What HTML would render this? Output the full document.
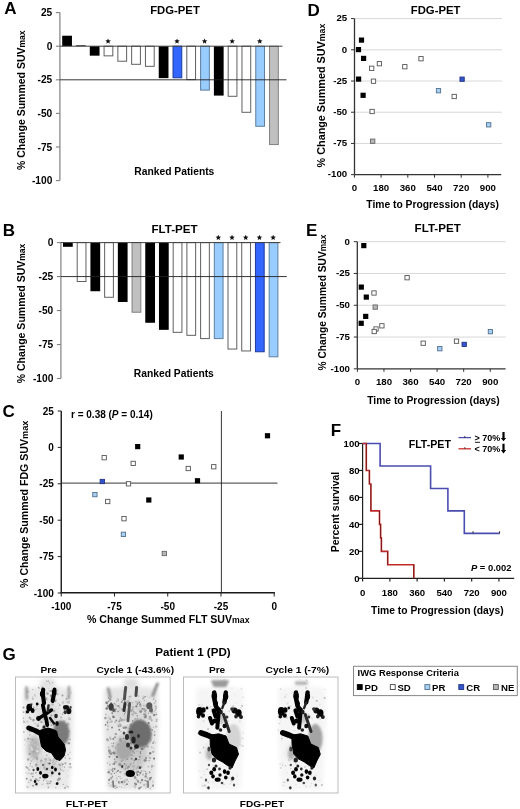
<!DOCTYPE html>
<html><head><meta charset="utf-8"><style>
html,body{margin:0;padding:0;background:#fff;}
svg{display:block;font-family:"Liberation Sans", sans-serif;will-change:transform;filter:blur(0.45px);}
</style></head><body>
<svg width="520" height="809" viewBox="0 0 520 809">
<rect width="520" height="809" fill="#fff"/>
<defs>
<filter id="b0" x="-20%" y="-20%" width="140%" height="140%"><feGaussianBlur stdDeviation="0.75"/></filter>
<filter id="b1" x="-20%" y="-20%" width="140%" height="140%"><feGaussianBlur stdDeviation="1.0"/></filter>
<filter id="b2" x="-20%" y="-20%" width="140%" height="140%"><feGaussianBlur stdDeviation="2.0"/></filter>
</defs>
<g filter="url(#b2)">
<path d="M41.5,679.0 L54.5,679.0 L55.5,687.0 L72.0,689.0 L73.0,719.0 L71.0,759.0 L69.0,789.0 L27.0,789.0 L25.0,759.0 L23.0,719.0 L24.0,689.0 L40.5,687.0 Z" fill="#e9e9e9" stroke="#e9e9e9" stroke-width="1" stroke-linejoin="round" opacity="1"/>
<ellipse cx="47.0" cy="684.0" rx="7" ry="5" fill="#e2e2e2" opacity="1"/>
<ellipse cx="34.5" cy="748.0" rx="6.5" ry="12" fill="#b4b4b4" opacity="1"/>
<ellipse cx="48.0" cy="766.0" rx="13" ry="9" fill="#d6d6d6" opacity="1"/>
<ellipse cx="48.0" cy="714.0" rx="12" ry="11" fill="#dcdcdc" opacity="1"/>
</g><g filter="url(#b0)">
<circle cx="45.6" cy="740.6" r="0.86" fill="rgb(209,209,209)"/>
<circle cx="65.8" cy="699.9" r="0.88" fill="rgb(215,215,215)"/>
<circle cx="53.7" cy="699.5" r="0.74" fill="rgb(207,207,207)"/>
<circle cx="27.5" cy="768.1" r="0.98" fill="rgb(155,155,155)"/>
<circle cx="42.8" cy="728.8" r="1.00" fill="rgb(170,170,170)"/>
<circle cx="53.0" cy="764.6" r="0.85" fill="rgb(191,191,191)"/>
<circle cx="65.1" cy="736.1" r="0.90" fill="rgb(187,187,187)"/>
<circle cx="56.1" cy="729.3" r="0.83" fill="rgb(185,185,185)"/>
<circle cx="50.6" cy="781.5" r="1.07" fill="rgb(160,160,160)"/>
<circle cx="38.8" cy="704.3" r="0.52" fill="rgb(186,186,186)"/>
<circle cx="51.2" cy="690.9" r="1.18" fill="rgb(163,163,163)"/>
<circle cx="42.3" cy="784.4" r="0.67" fill="rgb(150,150,150)"/>
<circle cx="41.8" cy="757.0" r="0.56" fill="rgb(203,203,203)"/>
<circle cx="54.5" cy="764.6" r="0.77" fill="rgb(184,184,184)"/>
<circle cx="43.5" cy="780.5" r="0.70" fill="rgb(167,167,167)"/>
<circle cx="62.9" cy="698.5" r="0.65" fill="rgb(221,221,221)"/>
<circle cx="48.4" cy="787.4" r="0.84" fill="rgb(166,166,166)"/>
<circle cx="42.2" cy="722.4" r="0.50" fill="rgb(177,177,177)"/>
<circle cx="66.2" cy="786.2" r="0.74" fill="rgb(225,225,225)"/>
<circle cx="67.2" cy="702.2" r="1.30" fill="rgb(200,200,200)"/>
<circle cx="53.1" cy="742.5" r="1.29" fill="rgb(155,155,155)"/>
<circle cx="33.7" cy="707.4" r="1.16" fill="rgb(192,192,192)"/>
<circle cx="42.3" cy="687.2" r="0.97" fill="rgb(176,176,176)"/>
<circle cx="35.2" cy="745.1" r="1.00" fill="rgb(197,197,197)"/>
<circle cx="29.4" cy="743.6" r="0.61" fill="rgb(223,223,223)"/>
<circle cx="42.3" cy="748.0" r="1.23" fill="rgb(189,189,189)"/>
<circle cx="63.9" cy="706.4" r="0.63" fill="rgb(174,174,174)"/>
<circle cx="54.4" cy="739.9" r="1.21" fill="rgb(199,199,199)"/>
<circle cx="53.2" cy="725.4" r="0.59" fill="rgb(163,163,163)"/>
<circle cx="48.6" cy="707.1" r="0.71" fill="rgb(200,200,200)"/>
<circle cx="64.2" cy="744.6" r="0.92" fill="rgb(187,187,187)"/>
<circle cx="29.3" cy="731.7" r="0.72" fill="rgb(159,159,159)"/>
<circle cx="68.9" cy="701.4" r="0.56" fill="rgb(152,152,152)"/>
<circle cx="43.6" cy="706.4" r="0.64" fill="rgb(155,155,155)"/>
<circle cx="41.4" cy="741.9" r="0.57" fill="rgb(166,166,166)"/>
<circle cx="29.9" cy="728.5" r="1.03" fill="rgb(192,192,192)"/>
<circle cx="57.6" cy="743.3" r="0.97" fill="rgb(167,167,167)"/>
<circle cx="69.2" cy="731.2" r="1.06" fill="rgb(195,195,195)"/>
<circle cx="54.8" cy="732.0" r="0.76" fill="rgb(189,189,189)"/>
<circle cx="50.3" cy="760.1" r="1.13" fill="rgb(166,166,166)"/>
<circle cx="68.8" cy="717.7" r="1.22" fill="rgb(210,210,210)"/>
<circle cx="66.6" cy="724.9" r="1.19" fill="rgb(153,153,153)"/>
<circle cx="51.6" cy="747.7" r="0.80" fill="rgb(198,198,198)"/>
<circle cx="27.5" cy="691.7" r="1.20" fill="rgb(182,182,182)"/>
<circle cx="59.4" cy="721.7" r="0.87" fill="rgb(224,224,224)"/>
<circle cx="46.1" cy="738.5" r="1.10" fill="rgb(216,216,216)"/>
<circle cx="24.5" cy="745.1" r="0.52" fill="rgb(211,211,211)"/>
<circle cx="70.9" cy="691.4" r="0.70" fill="rgb(212,212,212)"/>
<circle cx="23.6" cy="712.1" r="0.91" fill="rgb(175,175,175)"/>
<circle cx="60.7" cy="716.7" r="0.90" fill="rgb(206,206,206)"/>
<circle cx="35.1" cy="723.5" r="0.66" fill="rgb(182,182,182)"/>
<circle cx="44.5" cy="767.7" r="1.20" fill="rgb(175,175,175)"/>
<circle cx="42.2" cy="743.1" r="0.67" fill="rgb(190,190,190)"/>
<circle cx="29.7" cy="717.6" r="1.07" fill="rgb(155,155,155)"/>
<circle cx="70.5" cy="709.4" r="0.59" fill="rgb(171,171,171)"/>
<circle cx="46.6" cy="780.8" r="0.81" fill="rgb(202,202,202)"/>
<circle cx="49.0" cy="752.9" r="0.76" fill="rgb(207,207,207)"/>
<circle cx="64.4" cy="709.6" r="1.04" fill="rgb(155,155,155)"/>
<circle cx="37.1" cy="718.0" r="0.52" fill="rgb(222,222,222)"/>
<circle cx="29.8" cy="729.0" r="1.12" fill="rgb(153,153,153)"/>
<circle cx="36.3" cy="764.7" r="1.29" fill="rgb(156,156,156)"/>
<circle cx="28.8" cy="691.0" r="1.02" fill="rgb(218,218,218)"/>
<circle cx="63.4" cy="784.4" r="0.66" fill="rgb(175,175,175)"/>
<circle cx="46.8" cy="698.7" r="1.10" fill="rgb(151,151,151)"/>
<circle cx="49.7" cy="683.0" r="0.72" fill="rgb(178,178,178)"/>
<circle cx="40.3" cy="755.7" r="0.90" fill="rgb(216,216,216)"/>
<circle cx="65.4" cy="756.0" r="0.57" fill="rgb(178,178,178)"/>
<circle cx="69.6" cy="758.5" r="0.86" fill="rgb(166,166,166)"/>
<circle cx="32.8" cy="776.6" r="0.80" fill="rgb(150,150,150)"/>
<circle cx="51.4" cy="775.7" r="0.87" fill="rgb(193,193,193)"/>
<circle cx="55.6" cy="701.5" r="0.67" fill="rgb(165,165,165)"/>
<circle cx="68.0" cy="786.9" r="0.93" fill="rgb(189,189,189)"/>
<circle cx="62.5" cy="714.2" r="0.78" fill="rgb(152,152,152)"/>
<circle cx="27.1" cy="727.5" r="0.84" fill="rgb(220,220,220)"/>
<circle cx="36.8" cy="780.2" r="1.15" fill="rgb(177,177,177)"/>
<circle cx="26.2" cy="767.0" r="0.93" fill="rgb(172,172,172)"/>
<circle cx="57.3" cy="779.8" r="0.62" fill="rgb(210,210,210)"/>
<circle cx="48.8" cy="758.6" r="1.26" fill="rgb(206,206,206)"/>
<circle cx="47.6" cy="783.4" r="1.11" fill="rgb(161,161,161)"/>
<circle cx="45.0" cy="740.5" r="1.01" fill="rgb(221,221,221)"/>
<circle cx="49.1" cy="771.8" r="0.71" fill="rgb(221,221,221)"/>
<circle cx="56.6" cy="784.0" r="0.74" fill="rgb(176,176,176)"/>
<circle cx="30.1" cy="738.9" r="0.96" fill="rgb(184,184,184)"/>
<circle cx="33.0" cy="737.9" r="0.50" fill="rgb(214,214,214)"/>
<circle cx="41.9" cy="738.2" r="0.91" fill="rgb(155,155,155)"/>
<circle cx="43.0" cy="767.1" r="0.60" fill="rgb(222,222,222)"/>
<circle cx="27.7" cy="697.3" r="0.87" fill="rgb(218,218,218)"/>
<circle cx="69.0" cy="767.0" r="0.72" fill="rgb(201,201,201)"/>
<circle cx="46.7" cy="693.0" r="1.22" fill="rgb(205,205,205)"/>
<circle cx="49.2" cy="690.9" r="0.99" fill="rgb(203,203,203)"/>
<circle cx="69.3" cy="693.2" r="0.53" fill="rgb(152,152,152)"/>
<circle cx="37.2" cy="758.6" r="1.00" fill="rgb(181,181,181)"/>
<circle cx="28.2" cy="759.4" r="1.18" fill="rgb(165,165,165)"/>
<circle cx="54.2" cy="757.9" r="1.20" fill="rgb(217,217,217)"/>
<circle cx="64.3" cy="746.7" r="0.66" fill="rgb(218,218,218)"/>
<circle cx="54.6" cy="749.2" r="0.67" fill="rgb(217,217,217)"/>
<circle cx="50.1" cy="743.5" r="0.69" fill="rgb(167,167,167)"/>
<circle cx="60.0" cy="768.2" r="0.75" fill="rgb(173,173,173)"/>
<circle cx="38.7" cy="780.5" r="1.12" fill="rgb(177,177,177)"/>
<circle cx="32.7" cy="689.7" r="0.61" fill="rgb(180,180,180)"/>
<circle cx="27.4" cy="721.7" r="1.17" fill="rgb(205,205,205)"/>
<circle cx="44.1" cy="765.9" r="0.66" fill="rgb(166,166,166)"/>
<circle cx="54.4" cy="766.9" r="0.66" fill="rgb(162,162,162)"/>
<circle cx="57.1" cy="779.3" r="0.59" fill="rgb(196,196,196)"/>
<circle cx="48.3" cy="762.4" r="1.30" fill="rgb(214,214,214)"/>
<circle cx="64.6" cy="767.3" r="0.58" fill="rgb(211,211,211)"/>
<circle cx="24.9" cy="739.7" r="1.22" fill="rgb(215,215,215)"/>
<circle cx="47.1" cy="699.9" r="0.66" fill="rgb(164,164,164)"/>
<circle cx="65.0" cy="787.9" r="0.96" fill="rgb(162,162,162)"/>
<circle cx="29.7" cy="753.9" r="1.11" fill="rgb(159,159,159)"/>
<circle cx="39.3" cy="730.4" r="0.78" fill="rgb(215,215,215)"/>
<circle cx="33.5" cy="720.0" r="1.18" fill="rgb(155,155,155)"/>
<circle cx="32.1" cy="728.9" r="0.82" fill="rgb(197,197,197)"/>
<circle cx="32.8" cy="697.2" r="1.13" fill="rgb(215,215,215)"/>
<circle cx="39.2" cy="688.3" r="0.96" fill="rgb(201,201,201)"/>
<circle cx="32.5" cy="743.3" r="1.14" fill="rgb(193,193,193)"/>
<circle cx="35.9" cy="779.2" r="1.15" fill="rgb(170,170,170)"/>
<circle cx="43.3" cy="777.6" r="1.06" fill="rgb(218,218,218)"/>
<circle cx="61.4" cy="763.2" r="0.67" fill="rgb(201,201,201)"/>
<circle cx="32.2" cy="766.7" r="0.88" fill="rgb(188,188,188)"/>
<circle cx="23.5" cy="718.1" r="0.69" fill="rgb(156,156,156)"/>
<circle cx="70.2" cy="752.3" r="0.67" fill="rgb(193,193,193)"/>
<circle cx="43.3" cy="699.0" r="0.81" fill="rgb(159,159,159)"/>
<circle cx="58.1" cy="762.8" r="0.52" fill="rgb(223,223,223)"/>
<circle cx="53.8" cy="760.3" r="0.85" fill="rgb(182,182,182)"/>
<circle cx="48.2" cy="762.7" r="0.51" fill="rgb(198,198,198)"/>
<circle cx="35.9" cy="709.3" r="0.94" fill="rgb(193,193,193)"/>
<circle cx="48.4" cy="785.4" r="1.18" fill="rgb(222,222,222)"/>
<circle cx="28.0" cy="727.9" r="0.94" fill="rgb(159,159,159)"/>
<circle cx="56.4" cy="784.1" r="1.24" fill="rgb(199,199,199)"/>
<circle cx="31.0" cy="730.9" r="1.18" fill="rgb(171,171,171)"/>
<circle cx="50.1" cy="744.6" r="1.26" fill="rgb(204,204,204)"/>
<circle cx="44.0" cy="736.9" r="0.79" fill="rgb(189,189,189)"/>
<circle cx="37.3" cy="751.1" r="1.24" fill="rgb(221,221,221)"/>
<circle cx="56.2" cy="761.3" r="0.51" fill="rgb(153,153,153)"/>
<circle cx="30.8" cy="762.0" r="0.54" fill="rgb(199,199,199)"/>
<circle cx="38.8" cy="722.8" r="1.29" fill="rgb(224,224,224)"/>
<circle cx="68.3" cy="726.2" r="0.70" fill="rgb(211,211,211)"/>
<circle cx="27.9" cy="768.1" r="0.62" fill="rgb(209,209,209)"/>
<circle cx="71.0" cy="706.0" r="0.54" fill="rgb(164,164,164)"/>
<circle cx="43.9" cy="692.0" r="0.79" fill="rgb(156,156,156)"/>
<circle cx="30.7" cy="719.0" r="1.03" fill="rgb(167,167,167)"/>
<circle cx="45.8" cy="707.8" r="1.05" fill="rgb(224,224,224)"/>
<circle cx="41.2" cy="760.8" r="1.26" fill="rgb(167,167,167)"/>
<circle cx="59.7" cy="705.2" r="0.90" fill="rgb(164,164,164)"/>
<circle cx="38.4" cy="734.8" r="0.72" fill="rgb(195,195,195)"/>
<circle cx="53.5" cy="758.8" r="0.65" fill="rgb(225,225,225)"/>
<circle cx="36.9" cy="705.3" r="0.90" fill="rgb(181,181,181)"/>
<circle cx="55.6" cy="700.6" r="1.00" fill="rgb(155,155,155)"/>
<circle cx="23.5" cy="707.5" r="1.00" fill="rgb(153,153,153)"/>
<circle cx="28.1" cy="738.6" r="1.10" fill="rgb(159,159,159)"/>
<circle cx="68.6" cy="696.7" r="1.00" fill="rgb(180,180,180)"/>
<circle cx="41.7" cy="731.6" r="0.77" fill="rgb(176,176,176)"/>
<circle cx="47.7" cy="693.7" r="1.14" fill="rgb(159,159,159)"/>
<circle cx="45.4" cy="769.4" r="0.86" fill="rgb(177,177,177)"/>
<circle cx="60.4" cy="721.9" r="0.80" fill="rgb(169,169,169)"/>
<circle cx="55.7" cy="787.8" r="0.73" fill="rgb(191,191,191)"/>
<circle cx="60.9" cy="769.9" r="0.84" fill="rgb(173,173,173)"/>
<circle cx="41.5" cy="689.7" r="0.56" fill="rgb(191,191,191)"/>
<circle cx="27.2" cy="741.1" r="1.15" fill="rgb(212,212,212)"/>
<circle cx="46.2" cy="769.6" r="0.56" fill="rgb(151,151,151)"/>
<circle cx="33.7" cy="751.8" r="1.06" fill="rgb(160,160,160)"/>
<circle cx="47.7" cy="763.1" r="0.73" fill="rgb(191,191,191)"/>
<circle cx="30.1" cy="718.4" r="0.79" fill="rgb(191,191,191)"/>
<circle cx="28.9" cy="757.0" r="0.98" fill="rgb(222,222,222)"/>
<circle cx="68.1" cy="754.6" r="0.85" fill="rgb(185,185,185)"/>
<circle cx="63.2" cy="712.5" r="0.68" fill="rgb(190,190,190)"/>
<circle cx="48.8" cy="688.3" r="0.52" fill="rgb(196,196,196)"/>
<circle cx="56.9" cy="743.3" r="1.09" fill="rgb(174,174,174)"/>
<circle cx="41.4" cy="721.9" r="1.17" fill="rgb(169,169,169)"/>
<circle cx="51.1" cy="698.4" r="1.20" fill="rgb(208,208,208)"/>
<circle cx="48.8" cy="738.9" r="0.74" fill="rgb(222,222,222)"/>
<circle cx="44.1" cy="743.0" r="1.13" fill="rgb(189,189,189)"/>
<circle cx="59.9" cy="777.9" r="0.52" fill="rgb(160,160,160)"/>
<circle cx="55.7" cy="689.7" r="0.70" fill="rgb(204,204,204)"/>
<circle cx="34.0" cy="763.2" r="0.77" fill="rgb(216,216,216)"/>
<circle cx="46.0" cy="717.5" r="1.04" fill="rgb(192,192,192)"/>
<circle cx="47.7" cy="738.1" r="1.07" fill="rgb(159,159,159)"/>
<circle cx="68.7" cy="724.2" r="1.18" fill="rgb(194,194,194)"/>
<circle cx="63.3" cy="770.7" r="1.27" fill="rgb(209,209,209)"/>
<circle cx="55.0" cy="736.6" r="1.14" fill="rgb(151,151,151)"/>
<circle cx="44.1" cy="725.3" r="0.70" fill="rgb(168,168,168)"/>
<circle cx="31.1" cy="748.9" r="0.76" fill="rgb(171,171,171)"/>
<circle cx="42.5" cy="737.2" r="1.28" fill="rgb(185,185,185)"/>
<circle cx="26.0" cy="712.9" r="0.74" fill="rgb(164,164,164)"/>
<circle cx="30.8" cy="780.2" r="1.10" fill="rgb(157,157,157)"/>
<circle cx="23.9" cy="731.9" r="0.75" fill="rgb(154,154,154)"/>
<circle cx="32.9" cy="718.5" r="0.69" fill="rgb(225,225,225)"/>
<circle cx="58.9" cy="744.4" r="0.85" fill="rgb(178,178,178)"/>
<circle cx="67.7" cy="723.3" r="1.00" fill="rgb(189,189,189)"/>
<circle cx="70.1" cy="739.5" r="0.89" fill="rgb(183,183,183)"/>
<circle cx="43.1" cy="784.1" r="1.12" fill="rgb(220,220,220)"/>
<circle cx="27.6" cy="773.9" r="0.54" fill="rgb(201,201,201)"/>
<circle cx="70.4" cy="767.2" r="1.28" fill="rgb(199,199,199)"/>
<circle cx="62.7" cy="764.2" r="1.03" fill="rgb(157,157,157)"/>
<circle cx="46.6" cy="719.9" r="1.07" fill="rgb(181,181,181)"/>
<circle cx="53.3" cy="696.3" r="1.12" fill="rgb(170,170,170)"/>
<circle cx="30.2" cy="778.9" r="0.60" fill="rgb(216,216,216)"/>
<circle cx="60.1" cy="747.1" r="0.93" fill="rgb(216,216,216)"/>
<circle cx="30.5" cy="763.7" r="0.66" fill="rgb(150,150,150)"/>
<circle cx="68.8" cy="695.4" r="0.57" fill="rgb(166,166,166)"/>
<circle cx="36.5" cy="757.8" r="1.21" fill="rgb(162,162,162)"/>
<circle cx="57.7" cy="688.1" r="0.93" fill="rgb(225,225,225)"/>
<circle cx="48.3" cy="681.1" r="0.83" fill="rgb(174,174,174)"/>
<circle cx="68.8" cy="689.0" r="0.67" fill="rgb(206,206,206)"/>
<circle cx="50.2" cy="736.8" r="1.26" fill="rgb(170,170,170)"/>
<circle cx="71.2" cy="713.8" r="0.56" fill="rgb(201,201,201)"/>
<circle cx="38.3" cy="730.4" r="0.79" fill="rgb(158,158,158)"/>
<circle cx="57.4" cy="690.6" r="1.04" fill="rgb(200,200,200)"/>
<circle cx="60.3" cy="765.3" r="1.02" fill="rgb(165,165,165)"/>
<circle cx="23.6" cy="720.5" r="0.69" fill="rgb(210,210,210)"/>
<circle cx="51.2" cy="729.4" r="1.18" fill="rgb(151,151,151)"/>
<circle cx="65.2" cy="758.1" r="0.73" fill="rgb(169,169,169)"/>
<circle cx="41.8" cy="738.4" r="1.26" fill="rgb(188,188,188)"/>
<circle cx="60.7" cy="740.1" r="0.71" fill="rgb(161,161,161)"/>
<circle cx="33.0" cy="759.5" r="0.75" fill="rgb(192,192,192)"/>
<circle cx="36.7" cy="730.7" r="0.86" fill="rgb(192,192,192)"/>
<circle cx="42.1" cy="690.2" r="0.61" fill="rgb(162,162,162)"/>
<circle cx="54.5" cy="698.7" r="0.82" fill="rgb(174,174,174)"/>
<circle cx="64.8" cy="744.2" r="0.58" fill="rgb(161,161,161)"/>
<circle cx="44.7" cy="763.8" r="1.24" fill="rgb(193,193,193)"/>
<circle cx="44.4" cy="735.3" r="1.11" fill="rgb(176,176,176)"/>
<circle cx="64.1" cy="721.5" r="1.24" fill="rgb(192,192,192)"/>
<circle cx="54.2" cy="759.0" r="1.29" fill="rgb(190,190,190)"/>
<circle cx="62.5" cy="751.6" r="0.51" fill="rgb(217,217,217)"/>
<circle cx="39.6" cy="716.6" r="0.59" fill="rgb(206,206,206)"/>
<circle cx="41.9" cy="735.0" r="1.16" fill="rgb(187,187,187)"/>
<circle cx="53.6" cy="696.4" r="1.22" fill="rgb(218,218,218)"/>
<circle cx="50.4" cy="717.8" r="0.91" fill="rgb(214,214,214)"/>
<circle cx="51.7" cy="700.8" r="1.30" fill="rgb(216,216,216)"/>
<circle cx="58.3" cy="782.0" r="1.26" fill="rgb(222,222,222)"/>
<circle cx="54.4" cy="700.8" r="0.61" fill="rgb(160,160,160)"/>
<circle cx="46.9" cy="724.9" r="0.76" fill="rgb(192,192,192)"/>
<circle cx="69.5" cy="718.7" r="1.21" fill="rgb(209,209,209)"/>
<circle cx="45.6" cy="759.3" r="1.22" fill="rgb(180,180,180)"/>
<circle cx="50.2" cy="740.7" r="1.23" fill="rgb(221,221,221)"/>
<circle cx="31.4" cy="761.0" r="0.98" fill="rgb(192,192,192)"/>
<circle cx="29.1" cy="769.7" r="1.05" fill="rgb(186,186,186)"/>
<circle cx="41.2" cy="762.4" r="1.16" fill="rgb(196,196,196)"/>
<circle cx="32.3" cy="739.3" r="0.86" fill="rgb(159,159,159)"/>
<circle cx="43.2" cy="765.1" r="0.75" fill="rgb(167,167,167)"/>
<circle cx="56.6" cy="760.1" r="0.99" fill="rgb(198,198,198)"/>
<circle cx="55.0" cy="763.0" r="0.66" fill="rgb(170,170,170)"/>
<circle cx="46.4" cy="694.7" r="0.59" fill="rgb(199,199,199)"/>
<circle cx="43.3" cy="716.0" r="0.71" fill="rgb(166,166,166)"/>
<circle cx="51.4" cy="715.5" r="1.08" fill="rgb(154,154,154)"/>
<circle cx="62.4" cy="723.3" r="0.98" fill="rgb(213,213,213)"/>
<circle cx="46.5" cy="724.3" r="1.11" fill="rgb(222,222,222)"/>
<circle cx="60.6" cy="732.4" r="1.17" fill="rgb(209,209,209)"/>
<circle cx="65.8" cy="724.0" r="0.59" fill="rgb(205,205,205)"/>
<circle cx="28.7" cy="782.3" r="0.92" fill="rgb(192,192,192)"/>
<circle cx="44.6" cy="778.5" r="1.23" fill="rgb(191,191,191)"/>
<circle cx="37.8" cy="746.8" r="1.09" fill="rgb(205,205,205)"/>
<circle cx="52.9" cy="761.7" r="1.21" fill="rgb(189,189,189)"/>
<circle cx="66.9" cy="705.9" r="0.69" fill="rgb(207,207,207)"/>
<circle cx="66.7" cy="786.0" r="1.06" fill="rgb(210,210,210)"/>
<circle cx="49.3" cy="705.3" r="1.03" fill="rgb(189,189,189)"/>
<circle cx="66.6" cy="719.6" r="0.84" fill="rgb(219,219,219)"/>
<circle cx="63.3" cy="703.4" r="0.95" fill="rgb(203,203,203)"/>
<circle cx="68.2" cy="689.8" r="0.60" fill="rgb(166,166,166)"/>
<circle cx="49.9" cy="783.6" r="0.74" fill="rgb(150,150,150)"/>
<circle cx="31.6" cy="727.5" r="1.15" fill="rgb(207,207,207)"/>
<circle cx="42.9" cy="718.2" r="0.68" fill="rgb(224,224,224)"/>
<circle cx="38.3" cy="729.0" r="0.75" fill="rgb(190,190,190)"/>
<circle cx="47.9" cy="781.7" r="1.20" fill="rgb(210,210,210)"/>
<circle cx="33.1" cy="773.5" r="0.66" fill="rgb(157,157,157)"/>
<circle cx="64.9" cy="718.0" r="0.51" fill="rgb(210,210,210)"/>
<circle cx="54.8" cy="755.8" r="0.66" fill="rgb(221,221,221)"/>
<circle cx="54.6" cy="700.1" r="1.02" fill="rgb(156,156,156)"/>
<circle cx="38.3" cy="768.9" r="1.20" fill="rgb(185,185,185)"/>
<circle cx="58.7" cy="693.8" r="0.83" fill="rgb(206,206,206)"/>
<circle cx="31.5" cy="773.8" r="1.07" fill="rgb(165,165,165)"/>
<circle cx="32.8" cy="698.9" r="0.90" fill="rgb(180,180,180)"/>
<circle cx="37.8" cy="709.1" r="1.21" fill="rgb(217,217,217)"/>
<circle cx="52.5" cy="704.2" r="1.22" fill="rgb(188,188,188)"/>
<circle cx="32.0" cy="703.9" r="1.01" fill="rgb(166,166,166)"/>
<circle cx="27.5" cy="787.1" r="1.23" fill="rgb(206,206,206)"/>
<circle cx="26.7" cy="778.8" r="0.98" fill="rgb(150,150,150)"/>
<circle cx="37.2" cy="706.6" r="0.57" fill="rgb(222,222,222)"/>
<circle cx="37.3" cy="762.1" r="0.64" fill="rgb(181,181,181)"/>
<circle cx="62.5" cy="695.6" r="1.00" fill="rgb(154,154,154)"/>
<circle cx="68.8" cy="743.3" r="1.24" fill="rgb(150,150,150)"/>
<circle cx="48.0" cy="698.8" r="1.12" fill="rgb(221,221,221)"/>
<circle cx="68.5" cy="714.3" r="1.13" fill="rgb(211,211,211)"/>
<circle cx="48.8" cy="734.6" r="1.10" fill="rgb(216,216,216)"/>
<circle cx="49.6" cy="744.3" r="0.59" fill="rgb(171,171,171)"/>
<circle cx="44.8" cy="752.5" r="1.12" fill="rgb(220,220,220)"/>
<circle cx="62.3" cy="766.0" r="0.71" fill="rgb(180,180,180)"/>
<circle cx="50.2" cy="772.8" r="0.71" fill="rgb(213,213,213)"/>
<circle cx="33.1" cy="785.8" r="0.96" fill="rgb(156,156,156)"/>
<circle cx="66.6" cy="698.8" r="0.99" fill="rgb(169,169,169)"/>
<circle cx="53.4" cy="767.7" r="0.85" fill="rgb(214,214,214)"/>
<circle cx="36.1" cy="766.8" r="0.59" fill="rgb(159,159,159)"/>
<circle cx="31.9" cy="749.4" r="1.13" fill="rgb(224,224,224)"/>
<circle cx="34.9" cy="695.1" r="0.84" fill="rgb(189,189,189)"/>
<circle cx="57.8" cy="769.2" r="1.12" fill="rgb(217,217,217)"/>
<circle cx="61.3" cy="733.8" r="0.64" fill="rgb(215,215,215)"/>
<circle cx="35.7" cy="696.6" r="0.55" fill="rgb(208,208,208)"/>
<circle cx="43.5" cy="719.1" r="1.06" fill="rgb(177,177,177)"/>
<circle cx="70.9" cy="693.1" r="0.62" fill="rgb(167,167,167)"/>
<circle cx="45.8" cy="760.9" r="0.50" fill="rgb(155,155,155)"/>
<circle cx="43.5" cy="736.8" r="0.81" fill="rgb(161,161,161)"/>
<circle cx="37.9" cy="725.7" r="1.28" fill="rgb(159,159,159)"/>
<circle cx="57.0" cy="757.9" r="0.74" fill="rgb(179,179,179)"/>
<circle cx="28.9" cy="773.1" r="0.87" fill="rgb(203,203,203)"/>
<circle cx="69.6" cy="719.0" r="1.26" fill="rgb(193,193,193)"/>
<circle cx="69.2" cy="703.0" r="0.82" fill="rgb(170,170,170)"/>
<circle cx="40.2" cy="755.4" r="1.24" fill="rgb(225,225,225)"/>
<circle cx="31.9" cy="773.6" r="0.80" fill="rgb(177,177,177)"/>
<circle cx="62.1" cy="702.7" r="0.70" fill="rgb(194,194,194)"/>
<circle cx="62.7" cy="767.5" r="0.66" fill="rgb(211,211,211)"/>
<circle cx="33.7" cy="730.4" r="0.88" fill="rgb(189,189,189)"/>
<circle cx="47.5" cy="747.9" r="1.19" fill="rgb(173,173,173)"/>
<circle cx="33.2" cy="721.1" r="0.54" fill="rgb(159,159,159)"/>
<circle cx="36.8" cy="783.4" r="0.92" fill="rgb(152,152,152)"/>
<circle cx="60.1" cy="735.3" r="1.24" fill="rgb(222,222,222)"/>
<circle cx="58.8" cy="708.5" r="0.55" fill="rgb(196,196,196)"/>
<circle cx="59.4" cy="764.5" r="1.11" fill="rgb(167,167,167)"/>
<circle cx="59.2" cy="778.8" r="1.30" fill="rgb(152,152,152)"/>
<circle cx="64.9" cy="728.5" r="0.76" fill="rgb(198,198,198)"/>
<circle cx="61.5" cy="736.1" r="0.74" fill="rgb(157,157,157)"/>
<circle cx="53.4" cy="732.7" r="0.62" fill="rgb(174,174,174)"/>
<circle cx="52.8" cy="682.5" r="0.83" fill="rgb(189,189,189)"/>
<circle cx="46.9" cy="755.3" r="1.07" fill="rgb(216,216,216)"/>
<circle cx="36.0" cy="758.8" r="0.62" fill="rgb(198,198,198)"/>
<circle cx="33.2" cy="709.8" r="0.82" fill="rgb(207,207,207)"/>
<circle cx="42.3" cy="774.3" r="0.58" fill="rgb(178,178,178)"/>
<circle cx="41.5" cy="746.2" r="0.53" fill="rgb(167,167,167)"/>
<circle cx="51.3" cy="768.0" r="1.03" fill="rgb(188,188,188)"/>
<circle cx="26.3" cy="772.8" r="1.05" fill="rgb(221,221,221)"/>
<circle cx="56.3" cy="784.1" r="0.69" fill="rgb(197,197,197)"/>
<circle cx="54.6" cy="688.9" r="0.60" fill="rgb(204,204,204)"/>
<circle cx="47.6" cy="732.9" r="0.73" fill="rgb(192,192,192)"/>
<circle cx="58.2" cy="703.4" r="0.66" fill="rgb(201,201,201)"/>
<circle cx="61.4" cy="717.6" r="0.92" fill="rgb(180,180,180)"/>
<circle cx="60.1" cy="778.8" r="0.88" fill="rgb(169,169,169)"/>
<circle cx="35.9" cy="772.8" r="1.06" fill="rgb(189,189,189)"/>
<circle cx="24.2" cy="722.1" r="1.23" fill="rgb(196,196,196)"/>
<circle cx="68.6" cy="708.9" r="0.90" fill="rgb(198,198,198)"/>
<circle cx="52.3" cy="730.6" r="1.21" fill="rgb(191,191,191)"/>
<circle cx="39.2" cy="720.1" r="0.71" fill="rgb(188,188,188)"/>
<circle cx="56.4" cy="699.5" r="0.81" fill="rgb(210,210,210)"/>
<circle cx="40.1" cy="777.7" r="0.96" fill="rgb(153,153,153)"/>
<circle cx="70.1" cy="763.9" r="1.00" fill="rgb(156,156,156)"/>
<circle cx="43.5" cy="724.7" r="0.55" fill="rgb(185,185,185)"/>
<circle cx="46.2" cy="728.5" r="0.53" fill="rgb(199,199,199)"/>
<circle cx="29.8" cy="734.8" r="0.90" fill="rgb(189,189,189)"/>
<circle cx="46.7" cy="681.3" r="0.72" fill="rgb(174,174,174)"/>
<circle cx="35.9" cy="703.2" r="0.50" fill="rgb(216,216,216)"/>
<circle cx="50.2" cy="722.3" r="0.94" fill="rgb(180,180,180)"/>
<circle cx="65.4" cy="763.2" r="1.00" fill="rgb(160,160,160)"/>
<circle cx="51.0" cy="770.4" r="0.71" fill="rgb(192,192,192)"/>
<circle cx="63.3" cy="701.9" r="1.05" fill="rgb(200,200,200)"/>
<circle cx="31.0" cy="747.4" r="1.14" fill="rgb(212,212,212)"/>
<circle cx="37.7" cy="724.6" r="1.10" fill="rgb(196,196,196)"/>
<circle cx="49.7" cy="705.1" r="0.79" fill="rgb(181,181,181)"/>
<circle cx="58.3" cy="779.9" r="1.20" fill="rgb(166,166,166)"/>
<circle cx="67.3" cy="713.1" r="0.91" fill="rgb(207,207,207)"/>
<circle cx="54.1" cy="724.4" r="0.54" fill="rgb(211,211,211)"/>
<circle cx="35.7" cy="734.8" r="0.70" fill="rgb(200,200,200)"/>
<circle cx="54.7" cy="719.4" r="0.65" fill="rgb(191,191,191)"/>
<circle cx="65.8" cy="701.5" r="1.16" fill="rgb(222,222,222)"/>
<circle cx="51.4" cy="725.3" r="1.00" fill="rgb(166,166,166)"/>
<circle cx="64.6" cy="767.1" r="0.66" fill="rgb(166,166,166)"/>
<circle cx="54.1" cy="711.1" r="1.28" fill="rgb(173,173,173)"/>
<circle cx="46.6" cy="755.3" r="0.71" fill="rgb(167,167,167)"/>
<circle cx="36.6" cy="706.7" r="0.81" fill="rgb(200,200,200)"/>
<circle cx="57.0" cy="694.3" r="1.07" fill="rgb(170,170,170)"/>
<circle cx="37.3" cy="759.4" r="0.82" fill="rgb(165,165,165)"/>
<circle cx="68.2" cy="770.6" r="0.64" fill="rgb(211,211,211)"/>
<circle cx="26.4" cy="727.3" r="0.68" fill="rgb(186,186,186)"/>
<circle cx="59.1" cy="723.9" r="1.28" fill="rgb(168,168,168)"/>
<circle cx="42.5" cy="755.3" r="0.73" fill="rgb(219,219,219)"/>
<circle cx="66.3" cy="727.6" r="0.94" fill="rgb(163,163,163)"/>
<circle cx="67.8" cy="775.9" r="0.60" fill="rgb(205,205,205)"/>
<circle cx="51.3" cy="694.8" r="0.72" fill="rgb(201,201,201)"/>
<circle cx="34.4" cy="732.0" r="0.94" fill="rgb(196,196,196)"/>
<circle cx="50.9" cy="695.7" r="1.21" fill="rgb(150,150,150)"/>
<circle cx="38.5" cy="687.6" r="0.77" fill="rgb(173,173,173)"/>
<circle cx="30.0" cy="765.8" r="0.89" fill="rgb(202,202,202)"/>
</g><g filter="url(#b1)">
<path d="M26.5,687.5 L26.8,698.5" fill="none" stroke="#9a9a9a" stroke-width="2.6" stroke-linecap="round" stroke-linejoin="round" opacity="1"/>
<path d="M69.0,687.0 L68.8,698.5" fill="none" stroke="#a0a0a0" stroke-width="2.6" stroke-linecap="round" stroke-linejoin="round" opacity="1"/>
<ellipse cx="61.2" cy="733.0" rx="8.4" ry="12.5" fill="#7a7a7a" opacity="1"/>
</g><g filter="url(#b0)">
<path d="M43.2,689.5 L42.8,694.0 L43.5,699.0 L44.0,703.0" fill="none" stroke="#000" stroke-width="4.2" stroke-linecap="round" stroke-linejoin="round" opacity="1"/>
<ellipse cx="42.5" cy="694.0" rx="2.6" ry="3.2" fill="#000" opacity="1"/>
<path d="M54.5,689.5 L53.8,695.0 L52.6,701.0" fill="none" stroke="#000" stroke-width="4.0" stroke-linecap="round" stroke-linejoin="round" opacity="1"/>
<ellipse cx="54.2" cy="692.5" rx="2.3" ry="3" fill="#000" opacity="1"/>
<path d="M42.8,705.0 L44.5,713.0 L46.4,720.0 L47.2,725.0" fill="none" stroke="#000" stroke-width="3.8" stroke-linecap="round" stroke-linejoin="round" opacity="1"/>
<path d="M51.5,710.0 L45.0,714.5 L38.5,718.5" fill="none" stroke="#000" stroke-width="3.5" stroke-linecap="round" stroke-linejoin="round" opacity="1"/>
<ellipse cx="38.5" cy="718.5" rx="2.4" ry="2.4" fill="#000" opacity="1"/>
<path d="M48.5,705.5 L47.8,711.0" fill="none" stroke="#2a2a2a" stroke-width="2.4" stroke-linecap="round" stroke-linejoin="round" opacity="1"/>
<path d="M50.0,718.0 L54.0,723.5" fill="none" stroke="#111" stroke-width="2.6" stroke-linecap="round" stroke-linejoin="round" opacity="1"/>
<ellipse cx="56.0" cy="716.0" rx="1.8" ry="2.2" fill="#222" opacity="1"/>
<ellipse cx="37.2" cy="704.0" rx="1.4" ry="1.4" fill="#000" opacity="1"/>
<ellipse cx="29.2" cy="707.5" rx="2.8" ry="3.8" fill="#000" opacity="1"/>
<ellipse cx="32.6" cy="710.5" rx="2" ry="2.5" fill="#000" opacity="1"/>
<ellipse cx="27.5" cy="711.8" rx="1.8" ry="1.8" fill="#111" opacity="1"/>
<ellipse cx="31.0" cy="705.0" rx="1.2" ry="1.4" fill="#222" opacity="1"/>
<ellipse cx="66.0" cy="707.2" rx="3" ry="2.3" fill="#111" opacity="1"/>
<ellipse cx="68.8" cy="711.0" rx="2.6" ry="3.1" fill="#111" opacity="1"/>
<ellipse cx="65.2" cy="712.2" rx="1.6" ry="2" fill="#333" opacity="1"/>
<ellipse cx="70.5" cy="707.5" rx="1.2" ry="1.4" fill="#444" opacity="1"/>
<path d="M28.8,728.0 L35.0,730.5 L41.5,734.0" fill="none" stroke="#000" stroke-width="5.0" stroke-linecap="round" stroke-linejoin="round" opacity="1"/>
<path d="M38.5,731.0 L44.0,729.0 L48.0,728.0 L53.0,729.5 L56.5,731.0 L58.0,737.0 L62.0,741.5 L64.5,745.0 L65.5,750.0 L64.0,756.0 L60.0,760.5 L55.5,759.0 L51.5,753.0 L46.0,751.0 L41.5,746.5 Z" fill="#000" stroke="#000" stroke-width="1" stroke-linejoin="round" opacity="1"/>
<ellipse cx="57.0" cy="723.5" rx="1.8" ry="2.6" fill="#111" opacity="1"/>
<ellipse cx="44.0" cy="727.0" rx="1.6" ry="1.6" fill="#222" opacity="1"/>
<ellipse cx="37.8" cy="769.0" rx="1.4" ry="1.9" fill="#000" opacity="1"/>
<ellipse cx="40.5" cy="772.8" rx="1.5" ry="1.9" fill="#000" opacity="1"/>
<ellipse cx="45.3" cy="776.0" rx="3.2" ry="2.3" fill="#000" opacity="1"/>
<ellipse cx="52.3" cy="767.4" rx="1.3" ry="1.7" fill="#000" opacity="1"/>
<ellipse cx="55.5" cy="769.5" rx="1.4" ry="1.9" fill="#000" opacity="1"/>
<ellipse cx="52.3" cy="772.8" rx="1.3" ry="1.6" fill="#111" opacity="1"/>
<ellipse cx="35.0" cy="781.4" rx="1.2" ry="1.7" fill="#111" opacity="1"/>
<ellipse cx="36.4" cy="784.2" rx="1.1" ry="1.4" fill="#222" opacity="1"/>
<ellipse cx="57.2" cy="783.5" rx="1.3" ry="1.6" fill="#111" opacity="1"/>
<ellipse cx="59.3" cy="773.8" rx="1.2" ry="1.5" fill="#222" opacity="1"/>
<ellipse cx="33.5" cy="770.0" rx="1.0" ry="1.3" fill="#444" opacity="1"/>
<ellipse cx="47.0" cy="769.0" rx="1.2" ry="1.2" fill="#444" opacity="1"/>
<ellipse cx="43.0" cy="765.0" rx="1" ry="1" fill="#555" opacity="1"/>
<ellipse cx="49.5" cy="763.5" rx="1.1" ry="1.1" fill="#555" opacity="1"/>
</g>
<g filter="url(#b2)">
<path d="M124.5,679.0 L137.5,679.0 L138.5,687.0 L157.0,689.0 L158.0,719.0 L156.0,759.0 L154.0,789.0 L108.0,789.0 L106.0,759.0 L104.0,719.0 L105.0,689.0 L123.5,687.0 Z" fill="#e4e4e4" stroke="#e4e4e4" stroke-width="1" stroke-linejoin="round" opacity="1"/>
<ellipse cx="131.0" cy="683.0" rx="6" ry="4" fill="#dedede" opacity="1"/>
<ellipse cx="132.0" cy="711.0" rx="20" ry="11" fill="#dadada" opacity="1"/>
<ellipse cx="130.0" cy="752.0" rx="17" ry="20" fill="#c8c8c8" opacity="1"/>
</g><g filter="url(#b0)">
<circle cx="153.1" cy="784.2" r="0.51" fill="rgb(130,130,130)"/>
<circle cx="121.0" cy="731.3" r="0.61" fill="rgb(165,165,165)"/>
<circle cx="115.0" cy="737.3" r="1.03" fill="rgb(148,148,148)"/>
<circle cx="151.9" cy="705.8" r="0.92" fill="rgb(210,210,210)"/>
<circle cx="127.4" cy="767.7" r="1.17" fill="rgb(146,146,146)"/>
<circle cx="135.6" cy="757.2" r="0.68" fill="rgb(199,199,199)"/>
<circle cx="143.2" cy="748.6" r="1.32" fill="rgb(167,167,167)"/>
<circle cx="119.6" cy="786.6" r="0.57" fill="rgb(193,193,193)"/>
<circle cx="129.7" cy="762.8" r="1.17" fill="rgb(195,195,195)"/>
<circle cx="140.1" cy="711.2" r="0.95" fill="rgb(142,142,142)"/>
<circle cx="140.0" cy="744.4" r="0.60" fill="rgb(194,194,194)"/>
<circle cx="110.1" cy="699.6" r="1.30" fill="rgb(155,155,155)"/>
<circle cx="119.6" cy="750.9" r="0.81" fill="rgb(133,133,133)"/>
<circle cx="120.0" cy="724.3" r="0.97" fill="rgb(178,178,178)"/>
<circle cx="118.4" cy="706.0" r="1.10" fill="rgb(135,135,135)"/>
<circle cx="148.1" cy="718.1" r="0.62" fill="rgb(189,189,189)"/>
<circle cx="143.8" cy="705.3" r="0.64" fill="rgb(169,169,169)"/>
<circle cx="155.7" cy="701.2" r="0.83" fill="rgb(173,173,173)"/>
<circle cx="113.5" cy="717.0" r="1.33" fill="rgb(121,121,121)"/>
<circle cx="146.9" cy="784.2" r="1.30" fill="rgb(188,188,188)"/>
<circle cx="128.1" cy="704.6" r="1.33" fill="rgb(122,122,122)"/>
<circle cx="124.6" cy="714.0" r="0.72" fill="rgb(129,129,129)"/>
<circle cx="133.5" cy="766.2" r="1.31" fill="rgb(178,178,178)"/>
<circle cx="116.2" cy="705.6" r="1.05" fill="rgb(187,187,187)"/>
<circle cx="140.9" cy="747.9" r="0.72" fill="rgb(150,150,150)"/>
<circle cx="126.9" cy="779.8" r="1.15" fill="rgb(176,176,176)"/>
<circle cx="139.1" cy="734.5" r="1.26" fill="rgb(141,141,141)"/>
<circle cx="140.8" cy="734.4" r="1.32" fill="rgb(208,208,208)"/>
<circle cx="151.7" cy="765.4" r="0.75" fill="rgb(189,189,189)"/>
<circle cx="126.3" cy="767.8" r="1.02" fill="rgb(191,191,191)"/>
<circle cx="107.7" cy="722.5" r="1.04" fill="rgb(123,123,123)"/>
<circle cx="122.3" cy="748.0" r="0.71" fill="rgb(175,175,175)"/>
<circle cx="154.5" cy="703.3" r="1.09" fill="rgb(191,191,191)"/>
<circle cx="110.9" cy="778.5" r="1.18" fill="rgb(180,180,180)"/>
<circle cx="156.4" cy="721.3" r="0.82" fill="rgb(163,163,163)"/>
<circle cx="145.9" cy="709.2" r="0.67" fill="rgb(171,171,171)"/>
<circle cx="140.4" cy="712.1" r="1.13" fill="rgb(177,177,177)"/>
<circle cx="154.6" cy="735.1" r="0.91" fill="rgb(155,155,155)"/>
<circle cx="140.8" cy="746.1" r="0.65" fill="rgb(191,191,191)"/>
<circle cx="132.7" cy="720.7" r="0.69" fill="rgb(131,131,131)"/>
<circle cx="124.6" cy="697.7" r="1.01" fill="rgb(178,178,178)"/>
<circle cx="120.2" cy="725.7" r="1.18" fill="rgb(164,164,164)"/>
<circle cx="119.2" cy="782.5" r="0.83" fill="rgb(140,140,140)"/>
<circle cx="126.8" cy="771.9" r="1.14" fill="rgb(181,181,181)"/>
<circle cx="150.9" cy="746.1" r="0.58" fill="rgb(208,208,208)"/>
<circle cx="116.3" cy="720.5" r="0.93" fill="rgb(138,138,138)"/>
<circle cx="110.7" cy="739.0" r="0.74" fill="rgb(135,135,135)"/>
<circle cx="145.0" cy="696.7" r="0.72" fill="rgb(124,124,124)"/>
<circle cx="149.2" cy="719.0" r="1.04" fill="rgb(192,192,192)"/>
<circle cx="119.3" cy="729.7" r="1.03" fill="rgb(138,138,138)"/>
<circle cx="145.6" cy="712.8" r="0.84" fill="rgb(185,185,185)"/>
<circle cx="140.3" cy="723.3" r="1.03" fill="rgb(130,130,130)"/>
<circle cx="141.2" cy="752.3" r="1.33" fill="rgb(125,125,125)"/>
<circle cx="152.4" cy="713.0" r="0.62" fill="rgb(122,122,122)"/>
<circle cx="140.5" cy="782.7" r="0.90" fill="rgb(157,157,157)"/>
<circle cx="141.9" cy="749.0" r="1.20" fill="rgb(126,126,126)"/>
<circle cx="136.4" cy="751.0" r="0.52" fill="rgb(161,161,161)"/>
<circle cx="123.2" cy="710.9" r="0.68" fill="rgb(147,147,147)"/>
<circle cx="127.2" cy="725.5" r="0.69" fill="rgb(199,199,199)"/>
<circle cx="135.5" cy="783.3" r="0.81" fill="rgb(204,204,204)"/>
<circle cx="138.9" cy="765.3" r="0.77" fill="rgb(214,214,214)"/>
<circle cx="151.1" cy="787.3" r="0.61" fill="rgb(201,201,201)"/>
<circle cx="124.8" cy="768.0" r="0.92" fill="rgb(125,125,125)"/>
<circle cx="123.2" cy="715.6" r="0.95" fill="rgb(203,203,203)"/>
<circle cx="115.9" cy="733.8" r="0.53" fill="rgb(127,127,127)"/>
<circle cx="143.3" cy="739.9" r="1.00" fill="rgb(140,140,140)"/>
<circle cx="126.5" cy="718.9" r="0.53" fill="rgb(160,160,160)"/>
<circle cx="120.4" cy="772.1" r="1.20" fill="rgb(171,171,171)"/>
<circle cx="134.9" cy="786.0" r="1.26" fill="rgb(188,188,188)"/>
<circle cx="137.8" cy="771.7" r="1.28" fill="rgb(143,143,143)"/>
<circle cx="127.4" cy="701.8" r="0.83" fill="rgb(120,120,120)"/>
<circle cx="124.9" cy="701.3" r="0.86" fill="rgb(124,124,124)"/>
<circle cx="123.2" cy="783.7" r="1.10" fill="rgb(205,205,205)"/>
<circle cx="139.8" cy="721.4" r="0.62" fill="rgb(141,141,141)"/>
<circle cx="147.2" cy="739.2" r="1.29" fill="rgb(135,135,135)"/>
<circle cx="127.0" cy="759.8" r="1.18" fill="rgb(202,202,202)"/>
<circle cx="111.1" cy="697.6" r="1.02" fill="rgb(186,186,186)"/>
<circle cx="132.6" cy="714.4" r="1.17" fill="rgb(164,164,164)"/>
<circle cx="121.2" cy="761.4" r="0.92" fill="rgb(175,175,175)"/>
<circle cx="133.4" cy="769.5" r="0.79" fill="rgb(157,157,157)"/>
<circle cx="143.4" cy="716.5" r="0.98" fill="rgb(205,205,205)"/>
<circle cx="151.9" cy="710.2" r="1.16" fill="rgb(208,208,208)"/>
<circle cx="112.3" cy="782.2" r="1.28" fill="rgb(209,209,209)"/>
<circle cx="155.4" cy="706.3" r="0.57" fill="rgb(194,194,194)"/>
<circle cx="109.2" cy="770.0" r="0.91" fill="rgb(212,212,212)"/>
<circle cx="153.7" cy="699.3" r="0.73" fill="rgb(153,153,153)"/>
<circle cx="134.8" cy="788.3" r="0.51" fill="rgb(202,202,202)"/>
<circle cx="152.8" cy="781.6" r="1.12" fill="rgb(204,204,204)"/>
<circle cx="108.7" cy="772.3" r="1.21" fill="rgb(142,142,142)"/>
<circle cx="130.4" cy="764.5" r="0.72" fill="rgb(138,138,138)"/>
<circle cx="153.2" cy="751.8" r="1.15" fill="rgb(169,169,169)"/>
<circle cx="134.6" cy="749.2" r="1.04" fill="rgb(125,125,125)"/>
<circle cx="112.2" cy="770.1" r="1.05" fill="rgb(165,165,165)"/>
<circle cx="153.9" cy="747.9" r="0.51" fill="rgb(173,173,173)"/>
<circle cx="130.8" cy="738.5" r="1.07" fill="rgb(156,156,156)"/>
<circle cx="136.8" cy="773.4" r="0.76" fill="rgb(146,146,146)"/>
<circle cx="148.7" cy="706.7" r="0.62" fill="rgb(140,140,140)"/>
<circle cx="135.3" cy="786.7" r="1.21" fill="rgb(198,198,198)"/>
<circle cx="144.1" cy="714.3" r="0.94" fill="rgb(141,141,141)"/>
<circle cx="132.9" cy="751.2" r="1.21" fill="rgb(146,146,146)"/>
<circle cx="118.8" cy="751.8" r="1.11" fill="rgb(194,194,194)"/>
<circle cx="111.6" cy="743.3" r="0.55" fill="rgb(165,165,165)"/>
<circle cx="140.2" cy="731.2" r="1.15" fill="rgb(162,162,162)"/>
<circle cx="110.2" cy="719.0" r="1.04" fill="rgb(167,167,167)"/>
<circle cx="127.1" cy="716.2" r="0.97" fill="rgb(191,191,191)"/>
<circle cx="117.9" cy="699.6" r="1.33" fill="rgb(195,195,195)"/>
<circle cx="110.0" cy="708.1" r="0.56" fill="rgb(139,139,139)"/>
<circle cx="124.4" cy="698.9" r="0.88" fill="rgb(124,124,124)"/>
<circle cx="118.8" cy="764.7" r="1.10" fill="rgb(179,179,179)"/>
<circle cx="140.0" cy="724.0" r="1.27" fill="rgb(174,174,174)"/>
<circle cx="146.1" cy="705.7" r="1.07" fill="rgb(188,188,188)"/>
<circle cx="124.6" cy="764.1" r="0.98" fill="rgb(142,142,142)"/>
<circle cx="138.7" cy="702.3" r="1.23" fill="rgb(124,124,124)"/>
<circle cx="145.5" cy="760.4" r="1.22" fill="rgb(133,133,133)"/>
<circle cx="139.8" cy="756.8" r="1.30" fill="rgb(162,162,162)"/>
<circle cx="137.9" cy="782.0" r="0.85" fill="rgb(138,138,138)"/>
<circle cx="111.6" cy="721.5" r="1.31" fill="rgb(189,189,189)"/>
<circle cx="138.1" cy="753.8" r="1.04" fill="rgb(199,199,199)"/>
<circle cx="131.6" cy="758.8" r="1.01" fill="rgb(142,142,142)"/>
<circle cx="125.9" cy="727.5" r="1.19" fill="rgb(139,139,139)"/>
<circle cx="151.4" cy="769.2" r="0.57" fill="rgb(190,190,190)"/>
<circle cx="130.2" cy="728.6" r="1.16" fill="rgb(126,126,126)"/>
<circle cx="139.6" cy="774.8" r="0.65" fill="rgb(155,155,155)"/>
<circle cx="152.0" cy="730.0" r="1.01" fill="rgb(151,151,151)"/>
<circle cx="147.3" cy="744.7" r="0.72" fill="rgb(153,153,153)"/>
<circle cx="140.7" cy="787.3" r="0.92" fill="rgb(138,138,138)"/>
<circle cx="121.7" cy="767.7" r="0.79" fill="rgb(172,172,172)"/>
<circle cx="133.3" cy="750.7" r="0.54" fill="rgb(215,215,215)"/>
<circle cx="124.5" cy="725.3" r="0.60" fill="rgb(214,214,214)"/>
<circle cx="108.2" cy="706.7" r="1.24" fill="rgb(134,134,134)"/>
<circle cx="119.8" cy="707.7" r="0.59" fill="rgb(141,141,141)"/>
<circle cx="139.8" cy="726.9" r="1.24" fill="rgb(193,193,193)"/>
<circle cx="147.2" cy="781.3" r="0.67" fill="rgb(199,199,199)"/>
<circle cx="134.4" cy="732.9" r="1.13" fill="rgb(196,196,196)"/>
<circle cx="119.7" cy="742.9" r="1.17" fill="rgb(203,203,203)"/>
<circle cx="143.0" cy="774.4" r="0.96" fill="rgb(178,178,178)"/>
<circle cx="138.3" cy="700.1" r="0.51" fill="rgb(181,181,181)"/>
<circle cx="123.8" cy="768.7" r="0.87" fill="rgb(201,201,201)"/>
<circle cx="116.9" cy="778.4" r="1.11" fill="rgb(204,204,204)"/>
<circle cx="141.6" cy="722.1" r="0.66" fill="rgb(193,193,193)"/>
<circle cx="121.0" cy="741.2" r="1.19" fill="rgb(120,120,120)"/>
<circle cx="118.3" cy="744.6" r="1.22" fill="rgb(142,142,142)"/>
<circle cx="115.4" cy="762.0" r="1.33" fill="rgb(169,169,169)"/>
<circle cx="150.2" cy="707.2" r="1.24" fill="rgb(214,214,214)"/>
<circle cx="114.4" cy="773.4" r="0.69" fill="rgb(148,148,148)"/>
<circle cx="131.7" cy="734.6" r="0.85" fill="rgb(142,142,142)"/>
<circle cx="115.3" cy="786.1" r="1.26" fill="rgb(189,189,189)"/>
<circle cx="108.7" cy="697.9" r="0.82" fill="rgb(143,143,143)"/>
<circle cx="143.4" cy="698.4" r="1.09" fill="rgb(172,172,172)"/>
<circle cx="135.0" cy="777.5" r="1.25" fill="rgb(130,130,130)"/>
<circle cx="116.7" cy="701.6" r="0.50" fill="rgb(137,137,137)"/>
<circle cx="108.1" cy="706.1" r="1.30" fill="rgb(151,151,151)"/>
<circle cx="149.2" cy="760.6" r="0.95" fill="rgb(176,176,176)"/>
<circle cx="130.8" cy="743.3" r="1.24" fill="rgb(125,125,125)"/>
<circle cx="133.8" cy="711.9" r="0.93" fill="rgb(161,161,161)"/>
<circle cx="137.5" cy="775.0" r="0.99" fill="rgb(120,120,120)"/>
<circle cx="117.6" cy="752.6" r="0.53" fill="rgb(204,204,204)"/>
<circle cx="144.2" cy="785.0" r="1.22" fill="rgb(190,190,190)"/>
<circle cx="153.1" cy="742.9" r="0.91" fill="rgb(142,142,142)"/>
<circle cx="109.6" cy="769.9" r="1.20" fill="rgb(209,209,209)"/>
<circle cx="138.1" cy="757.7" r="0.77" fill="rgb(215,215,215)"/>
<circle cx="145.9" cy="716.8" r="1.05" fill="rgb(150,150,150)"/>
<circle cx="106.8" cy="702.9" r="0.84" fill="rgb(161,161,161)"/>
<circle cx="134.7" cy="760.3" r="0.99" fill="rgb(148,148,148)"/>
<circle cx="151.7" cy="710.8" r="0.86" fill="rgb(145,145,145)"/>
<circle cx="110.7" cy="704.4" r="1.06" fill="rgb(192,192,192)"/>
<circle cx="130.0" cy="703.1" r="0.95" fill="rgb(132,132,132)"/>
<circle cx="150.1" cy="717.0" r="1.19" fill="rgb(163,163,163)"/>
<circle cx="114.1" cy="763.8" r="1.10" fill="rgb(127,127,127)"/>
<circle cx="154.2" cy="715.0" r="1.23" fill="rgb(139,139,139)"/>
<circle cx="145.6" cy="710.6" r="1.13" fill="rgb(167,167,167)"/>
<circle cx="113.2" cy="763.7" r="0.54" fill="rgb(123,123,123)"/>
<circle cx="151.4" cy="735.8" r="0.69" fill="rgb(193,193,193)"/>
<circle cx="123.6" cy="738.7" r="0.99" fill="rgb(123,123,123)"/>
<circle cx="133.9" cy="762.9" r="0.69" fill="rgb(144,144,144)"/>
<circle cx="148.0" cy="746.8" r="1.15" fill="rgb(177,177,177)"/>
<circle cx="128.4" cy="705.4" r="1.05" fill="rgb(164,164,164)"/>
<circle cx="122.6" cy="766.3" r="1.32" fill="rgb(160,160,160)"/>
<circle cx="140.4" cy="726.6" r="0.51" fill="rgb(144,144,144)"/>
<circle cx="134.5" cy="738.6" r="0.71" fill="rgb(199,199,199)"/>
<circle cx="109.7" cy="751.8" r="1.17" fill="rgb(126,126,126)"/>
<circle cx="124.4" cy="716.8" r="0.58" fill="rgb(191,191,191)"/>
<circle cx="124.9" cy="706.3" r="0.77" fill="rgb(149,149,149)"/>
<circle cx="140.9" cy="719.1" r="0.61" fill="rgb(162,162,162)"/>
<circle cx="117.8" cy="738.9" r="0.76" fill="rgb(209,209,209)"/>
<circle cx="119.2" cy="725.3" r="1.27" fill="rgb(182,182,182)"/>
<circle cx="117.3" cy="751.0" r="0.87" fill="rgb(212,212,212)"/>
<circle cx="134.7" cy="742.7" r="1.24" fill="rgb(197,197,197)"/>
<circle cx="140.1" cy="762.4" r="1.17" fill="rgb(199,199,199)"/>
<circle cx="136.0" cy="733.9" r="0.83" fill="rgb(142,142,142)"/>
<circle cx="129.6" cy="751.1" r="1.01" fill="rgb(131,131,131)"/>
<circle cx="147.2" cy="696.2" r="0.66" fill="rgb(199,199,199)"/>
<circle cx="150.3" cy="707.9" r="1.12" fill="rgb(181,181,181)"/>
<circle cx="125.2" cy="780.5" r="1.14" fill="rgb(192,192,192)"/>
<circle cx="138.2" cy="767.7" r="1.10" fill="rgb(152,152,152)"/>
<circle cx="144.6" cy="760.4" r="1.05" fill="rgb(139,139,139)"/>
<circle cx="154.6" cy="731.8" r="0.60" fill="rgb(136,136,136)"/>
<circle cx="143.9" cy="709.2" r="1.28" fill="rgb(165,165,165)"/>
<circle cx="125.0" cy="734.2" r="0.57" fill="rgb(186,186,186)"/>
<circle cx="144.0" cy="770.9" r="1.35" fill="rgb(210,210,210)"/>
<circle cx="128.8" cy="703.6" r="0.52" fill="rgb(192,192,192)"/>
<circle cx="138.2" cy="751.0" r="0.60" fill="rgb(166,166,166)"/>
<circle cx="134.7" cy="740.2" r="0.92" fill="rgb(134,134,134)"/>
<circle cx="147.2" cy="734.7" r="1.13" fill="rgb(179,179,179)"/>
<circle cx="150.1" cy="758.0" r="0.92" fill="rgb(166,166,166)"/>
<circle cx="109.0" cy="717.2" r="1.25" fill="rgb(208,208,208)"/>
<circle cx="140.5" cy="728.9" r="1.14" fill="rgb(125,125,125)"/>
<circle cx="142.6" cy="720.8" r="1.10" fill="rgb(207,207,207)"/>
<circle cx="111.1" cy="753.8" r="1.29" fill="rgb(146,146,146)"/>
<circle cx="123.4" cy="739.6" r="0.78" fill="rgb(188,188,188)"/>
<circle cx="146.1" cy="773.7" r="1.21" fill="rgb(167,167,167)"/>
<circle cx="105.6" cy="724.8" r="0.87" fill="rgb(121,121,121)"/>
<circle cx="142.0" cy="743.3" r="0.51" fill="rgb(140,140,140)"/>
<circle cx="111.2" cy="773.9" r="1.07" fill="rgb(177,177,177)"/>
<circle cx="132.7" cy="774.2" r="0.93" fill="rgb(136,136,136)"/>
<circle cx="125.9" cy="735.7" r="1.08" fill="rgb(206,206,206)"/>
<circle cx="148.1" cy="727.6" r="0.55" fill="rgb(194,194,194)"/>
<circle cx="107.6" cy="729.4" r="0.93" fill="rgb(168,168,168)"/>
<circle cx="115.8" cy="709.2" r="0.88" fill="rgb(143,143,143)"/>
<circle cx="120.1" cy="720.3" r="1.34" fill="rgb(182,182,182)"/>
<circle cx="146.7" cy="705.4" r="0.72" fill="rgb(177,177,177)"/>
<circle cx="130.5" cy="750.1" r="1.33" fill="rgb(167,167,167)"/>
<circle cx="140.3" cy="772.8" r="1.08" fill="rgb(124,124,124)"/>
<circle cx="144.4" cy="747.1" r="1.27" fill="rgb(177,177,177)"/>
<circle cx="108.7" cy="783.2" r="0.87" fill="rgb(199,199,199)"/>
<circle cx="107.3" cy="703.7" r="0.89" fill="rgb(184,184,184)"/>
<circle cx="114.6" cy="768.9" r="1.10" fill="rgb(138,138,138)"/>
<circle cx="129.4" cy="696.6" r="0.75" fill="rgb(160,160,160)"/>
<circle cx="107.3" cy="739.6" r="1.34" fill="rgb(164,164,164)"/>
<circle cx="143.2" cy="696.3" r="0.70" fill="rgb(195,195,195)"/>
<circle cx="133.1" cy="726.9" r="1.12" fill="rgb(126,126,126)"/>
<circle cx="108.3" cy="717.5" r="1.06" fill="rgb(206,206,206)"/>
<circle cx="135.4" cy="719.1" r="1.23" fill="rgb(188,188,188)"/>
<circle cx="125.8" cy="760.7" r="0.54" fill="rgb(178,178,178)"/>
<circle cx="117.0" cy="787.5" r="0.78" fill="rgb(139,139,139)"/>
<circle cx="149.3" cy="726.0" r="0.53" fill="rgb(177,177,177)"/>
<circle cx="147.2" cy="778.2" r="0.79" fill="rgb(196,196,196)"/>
<circle cx="145.6" cy="776.5" r="1.14" fill="rgb(137,137,137)"/>
<circle cx="118.2" cy="770.5" r="0.85" fill="rgb(136,136,136)"/>
<circle cx="150.5" cy="718.5" r="1.27" fill="rgb(184,184,184)"/>
<circle cx="138.9" cy="766.8" r="1.31" fill="rgb(162,162,162)"/>
<circle cx="132.6" cy="727.7" r="0.52" fill="rgb(156,156,156)"/>
<circle cx="119.3" cy="782.3" r="1.25" fill="rgb(126,126,126)"/>
<circle cx="150.2" cy="741.8" r="0.53" fill="rgb(141,141,141)"/>
<circle cx="131.5" cy="763.4" r="0.60" fill="rgb(179,179,179)"/>
<circle cx="141.0" cy="711.5" r="1.29" fill="rgb(144,144,144)"/>
<circle cx="147.5" cy="778.2" r="0.81" fill="rgb(176,176,176)"/>
<circle cx="137.6" cy="739.7" r="1.15" fill="rgb(194,194,194)"/>
<circle cx="130.4" cy="726.3" r="0.98" fill="rgb(164,164,164)"/>
<circle cx="108.5" cy="701.5" r="0.80" fill="rgb(134,134,134)"/>
<circle cx="124.5" cy="787.7" r="0.77" fill="rgb(212,212,212)"/>
<circle cx="152.3" cy="765.9" r="1.01" fill="rgb(177,177,177)"/>
<circle cx="119.2" cy="721.6" r="1.01" fill="rgb(158,158,158)"/>
<circle cx="133.6" cy="760.3" r="0.65" fill="rgb(174,174,174)"/>
<circle cx="145.7" cy="740.9" r="0.64" fill="rgb(139,139,139)"/>
<circle cx="135.9" cy="728.4" r="1.27" fill="rgb(197,197,197)"/>
<circle cx="131.0" cy="755.2" r="1.11" fill="rgb(170,170,170)"/>
<circle cx="116.3" cy="772.2" r="0.93" fill="rgb(190,190,190)"/>
<circle cx="110.0" cy="722.0" r="1.30" fill="rgb(177,177,177)"/>
<circle cx="113.3" cy="738.9" r="0.95" fill="rgb(120,120,120)"/>
<circle cx="138.9" cy="759.7" r="0.64" fill="rgb(126,126,126)"/>
<circle cx="149.9" cy="779.6" r="0.89" fill="rgb(133,133,133)"/>
<circle cx="149.3" cy="697.3" r="0.63" fill="rgb(185,185,185)"/>
<circle cx="143.5" cy="774.9" r="0.73" fill="rgb(193,193,193)"/>
<circle cx="154.0" cy="741.6" r="1.07" fill="rgb(201,201,201)"/>
<circle cx="108.3" cy="708.0" r="0.74" fill="rgb(203,203,203)"/>
<circle cx="145.0" cy="711.2" r="0.96" fill="rgb(160,160,160)"/>
<circle cx="123.2" cy="780.7" r="0.57" fill="rgb(157,157,157)"/>
<circle cx="136.8" cy="720.5" r="0.52" fill="rgb(180,180,180)"/>
<circle cx="117.6" cy="771.1" r="0.79" fill="rgb(134,134,134)"/>
<circle cx="143.2" cy="771.3" r="0.82" fill="rgb(203,203,203)"/>
<circle cx="139.6" cy="722.7" r="0.81" fill="rgb(162,162,162)"/>
<circle cx="142.2" cy="708.7" r="0.96" fill="rgb(147,147,147)"/>
<circle cx="114.9" cy="703.9" r="0.67" fill="rgb(123,123,123)"/>
<circle cx="110.1" cy="737.7" r="1.19" fill="rgb(195,195,195)"/>
<circle cx="132.8" cy="755.9" r="0.80" fill="rgb(173,173,173)"/>
<circle cx="110.7" cy="764.0" r="0.63" fill="rgb(208,208,208)"/>
<circle cx="121.1" cy="759.5" r="0.77" fill="rgb(210,210,210)"/>
<circle cx="138.4" cy="697.2" r="0.62" fill="rgb(209,209,209)"/>
<circle cx="124.6" cy="781.8" r="1.06" fill="rgb(142,142,142)"/>
<circle cx="127.3" cy="759.2" r="0.90" fill="rgb(141,141,141)"/>
<circle cx="128.8" cy="701.8" r="0.87" fill="rgb(202,202,202)"/>
<circle cx="113.2" cy="764.3" r="0.92" fill="rgb(175,175,175)"/>
<circle cx="125.5" cy="728.8" r="0.57" fill="rgb(156,156,156)"/>
<circle cx="145.6" cy="771.6" r="0.50" fill="rgb(132,132,132)"/>
<circle cx="125.5" cy="711.4" r="1.23" fill="rgb(196,196,196)"/>
<circle cx="142.2" cy="752.4" r="1.33" fill="rgb(207,207,207)"/>
<circle cx="121.6" cy="720.4" r="1.02" fill="rgb(163,163,163)"/>
<circle cx="121.9" cy="699.0" r="1.10" fill="rgb(210,210,210)"/>
<circle cx="132.5" cy="702.6" r="0.61" fill="rgb(123,123,123)"/>
<circle cx="120.4" cy="746.8" r="1.02" fill="rgb(178,178,178)"/>
<circle cx="155.2" cy="710.1" r="0.69" fill="rgb(142,142,142)"/>
<circle cx="129.2" cy="702.2" r="0.51" fill="rgb(133,133,133)"/>
<circle cx="115.2" cy="758.9" r="0.53" fill="rgb(184,184,184)"/>
<circle cx="154.4" cy="697.7" r="0.63" fill="rgb(214,214,214)"/>
<circle cx="142.1" cy="780.0" r="1.18" fill="rgb(142,142,142)"/>
<circle cx="148.5" cy="756.1" r="1.17" fill="rgb(202,202,202)"/>
<circle cx="145.9" cy="776.3" r="0.68" fill="rgb(152,152,152)"/>
<circle cx="112.7" cy="768.6" r="0.94" fill="rgb(162,162,162)"/>
<circle cx="130.7" cy="740.0" r="0.79" fill="rgb(123,123,123)"/>
<circle cx="116.1" cy="775.6" r="0.92" fill="rgb(213,213,213)"/>
<circle cx="151.0" cy="740.0" r="0.92" fill="rgb(188,188,188)"/>
<circle cx="120.0" cy="741.0" r="1.03" fill="rgb(169,169,169)"/>
<circle cx="122.3" cy="709.8" r="1.00" fill="rgb(185,185,185)"/>
<circle cx="149.7" cy="772.6" r="1.14" fill="rgb(211,211,211)"/>
<circle cx="151.8" cy="766.9" r="0.87" fill="rgb(171,171,171)"/>
<circle cx="126.9" cy="784.2" r="0.90" fill="rgb(123,123,123)"/>
<circle cx="140.2" cy="705.2" r="1.09" fill="rgb(127,127,127)"/>
<circle cx="109.5" cy="750.3" r="1.23" fill="rgb(167,167,167)"/>
<circle cx="129.1" cy="746.9" r="1.34" fill="rgb(209,209,209)"/>
<circle cx="130.8" cy="696.5" r="0.96" fill="rgb(186,186,186)"/>
<circle cx="146.6" cy="746.1" r="0.71" fill="rgb(129,129,129)"/>
<circle cx="106.6" cy="702.8" r="1.19" fill="rgb(123,123,123)"/>
<circle cx="120.2" cy="737.5" r="0.93" fill="rgb(194,194,194)"/>
<circle cx="121.5" cy="745.2" r="0.84" fill="rgb(141,141,141)"/>
<circle cx="118.0" cy="748.0" r="0.59" fill="rgb(128,128,128)"/>
<circle cx="131.3" cy="710.9" r="1.35" fill="rgb(171,171,171)"/>
<circle cx="136.4" cy="768.4" r="0.99" fill="rgb(181,181,181)"/>
<circle cx="134.0" cy="735.8" r="1.18" fill="rgb(200,200,200)"/>
<circle cx="149.9" cy="705.2" r="0.69" fill="rgb(141,141,141)"/>
<circle cx="130.4" cy="770.5" r="1.06" fill="rgb(185,185,185)"/>
<circle cx="152.4" cy="707.7" r="0.57" fill="rgb(145,145,145)"/>
<circle cx="140.5" cy="733.3" r="0.93" fill="rgb(161,161,161)"/>
<circle cx="141.1" cy="739.2" r="0.87" fill="rgb(189,189,189)"/>
<circle cx="117.1" cy="724.0" r="0.96" fill="rgb(210,210,210)"/>
<circle cx="141.0" cy="728.3" r="0.66" fill="rgb(169,169,169)"/>
<circle cx="111.7" cy="727.4" r="0.51" fill="rgb(173,173,173)"/>
<circle cx="129.0" cy="737.8" r="1.09" fill="rgb(173,173,173)"/>
<circle cx="126.5" cy="780.1" r="0.93" fill="rgb(184,184,184)"/>
<circle cx="123.2" cy="750.0" r="0.88" fill="rgb(174,174,174)"/>
<circle cx="137.3" cy="762.4" r="0.88" fill="rgb(195,195,195)"/>
<circle cx="136.7" cy="739.0" r="0.82" fill="rgb(177,177,177)"/>
<circle cx="121.7" cy="702.0" r="0.87" fill="rgb(128,128,128)"/>
<circle cx="138.0" cy="709.8" r="1.32" fill="rgb(210,210,210)"/>
<circle cx="125.8" cy="780.9" r="1.31" fill="rgb(208,208,208)"/>
<circle cx="130.0" cy="751.9" r="0.57" fill="rgb(137,137,137)"/>
<circle cx="122.7" cy="756.8" r="1.34" fill="rgb(137,137,137)"/>
<circle cx="132.3" cy="726.6" r="0.52" fill="rgb(195,195,195)"/>
<circle cx="146.7" cy="735.8" r="0.50" fill="rgb(132,132,132)"/>
<circle cx="125.2" cy="774.5" r="1.23" fill="rgb(188,188,188)"/>
<circle cx="150.0" cy="738.3" r="0.93" fill="rgb(174,174,174)"/>
<circle cx="156.4" cy="714.5" r="0.82" fill="rgb(144,144,144)"/>
<circle cx="129.9" cy="697.7" r="0.59" fill="rgb(193,193,193)"/>
<circle cx="108.0" cy="720.9" r="0.66" fill="rgb(162,162,162)"/>
<circle cx="128.8" cy="766.7" r="1.15" fill="rgb(148,148,148)"/>
<circle cx="147.5" cy="736.5" r="1.15" fill="rgb(186,186,186)"/>
<circle cx="143.6" cy="723.4" r="1.16" fill="rgb(121,121,121)"/>
<circle cx="129.9" cy="773.0" r="1.23" fill="rgb(170,170,170)"/>
<circle cx="146.4" cy="701.0" r="0.77" fill="rgb(214,214,214)"/>
<circle cx="144.4" cy="700.6" r="0.51" fill="rgb(152,152,152)"/>
<circle cx="130.9" cy="725.1" r="1.31" fill="rgb(158,158,158)"/>
<circle cx="135.7" cy="713.0" r="0.84" fill="rgb(189,189,189)"/>
<circle cx="151.8" cy="747.3" r="0.93" fill="rgb(193,193,193)"/>
<circle cx="149.6" cy="724.9" r="0.65" fill="rgb(206,206,206)"/>
<circle cx="116.8" cy="780.7" r="0.50" fill="rgb(159,159,159)"/>
<circle cx="112.8" cy="771.4" r="0.82" fill="rgb(143,143,143)"/>
<circle cx="130.8" cy="733.3" r="1.27" fill="rgb(162,162,162)"/>
<circle cx="125.1" cy="785.1" r="0.62" fill="rgb(172,172,172)"/>
<circle cx="137.2" cy="715.7" r="0.86" fill="rgb(164,164,164)"/>
<circle cx="129.3" cy="711.7" r="0.68" fill="rgb(214,214,214)"/>
<circle cx="122.3" cy="709.1" r="0.89" fill="rgb(154,154,154)"/>
<circle cx="139.2" cy="788.4" r="1.07" fill="rgb(134,134,134)"/>
<circle cx="131.8" cy="742.9" r="0.89" fill="rgb(159,159,159)"/>
<circle cx="154.6" cy="706.8" r="0.71" fill="rgb(201,201,201)"/>
<circle cx="150.7" cy="729.5" r="1.32" fill="rgb(193,193,193)"/>
<circle cx="112.8" cy="784.1" r="0.92" fill="rgb(210,210,210)"/>
<circle cx="114.0" cy="703.2" r="0.62" fill="rgb(153,153,153)"/>
<circle cx="151.2" cy="705.0" r="1.02" fill="rgb(129,129,129)"/>
<circle cx="111.0" cy="785.7" r="1.34" fill="rgb(206,206,206)"/>
<circle cx="131.2" cy="773.7" r="0.59" fill="rgb(206,206,206)"/>
<circle cx="126.5" cy="757.1" r="0.64" fill="rgb(146,146,146)"/>
<circle cx="147.9" cy="744.1" r="0.79" fill="rgb(207,207,207)"/>
<circle cx="109.1" cy="753.6" r="0.65" fill="rgb(146,146,146)"/>
<circle cx="120.0" cy="776.7" r="0.82" fill="rgb(184,184,184)"/>
<circle cx="121.3" cy="753.2" r="1.13" fill="rgb(194,194,194)"/>
<circle cx="145.9" cy="743.4" r="0.54" fill="rgb(187,187,187)"/>
<circle cx="141.3" cy="767.1" r="1.29" fill="rgb(193,193,193)"/>
<circle cx="146.9" cy="781.5" r="0.82" fill="rgb(140,140,140)"/>
<circle cx="120.4" cy="782.1" r="1.19" fill="rgb(213,213,213)"/>
<circle cx="107.9" cy="728.1" r="0.81" fill="rgb(215,215,215)"/>
<circle cx="110.7" cy="752.0" r="1.07" fill="rgb(166,166,166)"/>
<circle cx="125.3" cy="757.7" r="0.88" fill="rgb(178,178,178)"/>
<circle cx="138.2" cy="701.8" r="0.95" fill="rgb(215,215,215)"/>
<circle cx="118.1" cy="711.5" r="0.73" fill="rgb(121,121,121)"/>
<circle cx="124.2" cy="720.1" r="1.32" fill="rgb(186,186,186)"/>
<circle cx="112.2" cy="713.1" r="0.88" fill="rgb(121,121,121)"/>
<circle cx="148.5" cy="728.7" r="1.08" fill="rgb(156,156,156)"/>
<circle cx="154.1" cy="711.7" r="0.89" fill="rgb(196,196,196)"/>
<circle cx="105.9" cy="714.4" r="0.96" fill="rgb(184,184,184)"/>
<circle cx="132.8" cy="730.4" r="0.60" fill="rgb(165,165,165)"/>
<circle cx="133.9" cy="742.9" r="0.71" fill="rgb(177,177,177)"/>
<circle cx="113.3" cy="709.2" r="1.08" fill="rgb(215,215,215)"/>
<circle cx="109.6" cy="696.1" r="0.76" fill="rgb(163,163,163)"/>
<circle cx="128.4" cy="781.7" r="0.51" fill="rgb(164,164,164)"/>
<circle cx="147.6" cy="787.0" r="0.84" fill="rgb(158,158,158)"/>
<circle cx="127.1" cy="736.3" r="0.95" fill="rgb(164,164,164)"/>
<circle cx="134.1" cy="752.8" r="0.88" fill="rgb(153,153,153)"/>
<circle cx="150.2" cy="778.3" r="1.04" fill="rgb(121,121,121)"/>
<circle cx="156.0" cy="708.3" r="1.14" fill="rgb(185,185,185)"/>
<circle cx="124.8" cy="773.5" r="0.51" fill="rgb(151,151,151)"/>
<circle cx="139.0" cy="737.1" r="0.89" fill="rgb(202,202,202)"/>
<circle cx="115.8" cy="734.1" r="1.25" fill="rgb(166,166,166)"/>
<circle cx="123.8" cy="727.7" r="1.26" fill="rgb(143,143,143)"/>
<circle cx="113.8" cy="752.1" r="0.88" fill="rgb(141,141,141)"/>
<circle cx="125.8" cy="718.2" r="0.85" fill="rgb(205,205,205)"/>
<circle cx="128.1" cy="701.3" r="0.59" fill="rgb(197,197,197)"/>
<circle cx="134.9" cy="777.9" r="0.85" fill="rgb(173,173,173)"/>
<circle cx="135.1" cy="713.2" r="0.60" fill="rgb(133,133,133)"/>
<circle cx="136.6" cy="779.7" r="0.90" fill="rgb(174,174,174)"/>
<circle cx="136.7" cy="713.3" r="0.66" fill="rgb(167,167,167)"/>
<circle cx="115.7" cy="748.2" r="1.03" fill="rgb(211,211,211)"/>
<circle cx="105.3" cy="718.0" r="1.26" fill="rgb(165,165,165)"/>
<circle cx="108.8" cy="747.5" r="1.07" fill="rgb(188,188,188)"/>
<circle cx="136.6" cy="743.6" r="0.71" fill="rgb(181,181,181)"/>
<circle cx="120.5" cy="718.1" r="0.86" fill="rgb(157,157,157)"/>
<circle cx="140.5" cy="706.1" r="1.22" fill="rgb(182,182,182)"/>
<circle cx="127.4" cy="763.8" r="0.52" fill="rgb(181,181,181)"/>
<circle cx="136.0" cy="784.2" r="1.06" fill="rgb(123,123,123)"/>
<circle cx="138.8" cy="696.1" r="0.80" fill="rgb(186,186,186)"/>
<circle cx="127.9" cy="727.9" r="0.65" fill="rgb(177,177,177)"/>
<circle cx="118.5" cy="726.4" r="0.91" fill="rgb(161,161,161)"/>
<circle cx="113.1" cy="715.8" r="0.68" fill="rgb(159,159,159)"/>
<circle cx="128.6" cy="698.7" r="1.11" fill="rgb(209,209,209)"/>
<circle cx="109.5" cy="750.5" r="1.25" fill="rgb(178,178,178)"/>
<circle cx="145.2" cy="717.2" r="1.32" fill="rgb(142,142,142)"/>
<circle cx="135.8" cy="763.3" r="1.04" fill="rgb(210,210,210)"/>
<circle cx="133.0" cy="702.5" r="0.85" fill="rgb(202,202,202)"/>
<circle cx="149.6" cy="772.2" r="0.84" fill="rgb(162,162,162)"/>
<circle cx="114.5" cy="759.4" r="0.60" fill="rgb(148,148,148)"/>
<circle cx="138.1" cy="722.3" r="1.18" fill="rgb(193,193,193)"/>
<circle cx="114.3" cy="753.2" r="1.31" fill="rgb(130,130,130)"/>
<circle cx="127.2" cy="701.3" r="0.86" fill="rgb(173,173,173)"/>
<circle cx="141.4" cy="770.9" r="0.53" fill="rgb(128,128,128)"/>
<circle cx="115.2" cy="721.9" r="1.19" fill="rgb(194,194,194)"/>
<circle cx="156.1" cy="726.6" r="1.33" fill="rgb(197,197,197)"/>
<circle cx="113.8" cy="786.4" r="1.16" fill="rgb(169,169,169)"/>
<circle cx="121.9" cy="782.1" r="1.22" fill="rgb(120,120,120)"/>
<circle cx="130.7" cy="771.5" r="0.73" fill="rgb(193,193,193)"/>
<circle cx="111.5" cy="777.6" r="0.95" fill="rgb(161,161,161)"/>
<circle cx="113.5" cy="743.4" r="0.78" fill="rgb(148,148,148)"/>
<circle cx="132.5" cy="709.6" r="1.00" fill="rgb(151,151,151)"/>
<circle cx="140.1" cy="728.5" r="0.95" fill="rgb(164,164,164)"/>
<circle cx="136.3" cy="772.5" r="1.00" fill="rgb(167,167,167)"/>
<circle cx="126.3" cy="751.2" r="0.83" fill="rgb(120,120,120)"/>
<circle cx="133.3" cy="714.8" r="1.11" fill="rgb(191,191,191)"/>
<circle cx="122.1" cy="719.8" r="1.00" fill="rgb(161,161,161)"/>
<circle cx="145.6" cy="780.5" r="0.84" fill="rgb(152,152,152)"/>
<circle cx="143.5" cy="736.9" r="1.24" fill="rgb(206,206,206)"/>
<circle cx="136.4" cy="706.4" r="1.13" fill="rgb(127,127,127)"/>
<circle cx="135.2" cy="748.2" r="0.64" fill="rgb(124,124,124)"/>
<circle cx="112.5" cy="776.7" r="0.71" fill="rgb(136,136,136)"/>
<circle cx="120.8" cy="747.5" r="1.13" fill="rgb(162,162,162)"/>
<circle cx="121.5" cy="787.4" r="0.78" fill="rgb(199,199,199)"/>
<circle cx="156.7" cy="719.7" r="1.22" fill="rgb(191,191,191)"/>
<circle cx="109.1" cy="779.9" r="1.06" fill="rgb(141,141,141)"/>
<circle cx="150.2" cy="732.9" r="0.66" fill="rgb(140,140,140)"/>
<circle cx="109.0" cy="721.2" r="0.60" fill="rgb(213,213,213)"/>
<circle cx="141.3" cy="766.7" r="0.79" fill="rgb(153,153,153)"/>
<circle cx="146.0" cy="743.8" r="0.61" fill="rgb(149,149,149)"/>
<circle cx="123.4" cy="709.4" r="1.20" fill="rgb(153,153,153)"/>
<circle cx="128.5" cy="700.8" r="1.10" fill="rgb(180,180,180)"/>
<circle cx="138.7" cy="728.4" r="1.15" fill="rgb(183,183,183)"/>
<circle cx="118.5" cy="776.5" r="0.59" fill="rgb(170,170,170)"/>
<circle cx="119.7" cy="709.8" r="1.14" fill="rgb(205,205,205)"/>
<circle cx="119.6" cy="763.6" r="0.97" fill="rgb(159,159,159)"/>
<circle cx="114.8" cy="711.1" r="1.26" fill="rgb(145,145,145)"/>
<circle cx="122.5" cy="753.5" r="0.63" fill="rgb(141,141,141)"/>
<circle cx="131.3" cy="769.1" r="1.23" fill="rgb(203,203,203)"/>
<circle cx="128.1" cy="744.1" r="0.69" fill="rgb(183,183,183)"/>
<circle cx="121.3" cy="725.4" r="0.79" fill="rgb(176,176,176)"/>
<circle cx="145.6" cy="715.3" r="1.10" fill="rgb(125,125,125)"/>
<circle cx="139.2" cy="767.5" r="1.29" fill="rgb(177,177,177)"/>
<circle cx="124.0" cy="767.5" r="1.32" fill="rgb(200,200,200)"/>
<circle cx="140.3" cy="755.0" r="0.56" fill="rgb(197,197,197)"/>
<circle cx="125.4" cy="738.6" r="1.08" fill="rgb(168,168,168)"/>
<circle cx="127.2" cy="704.0" r="0.94" fill="rgb(186,186,186)"/>
<circle cx="105.8" cy="718.6" r="0.54" fill="rgb(161,161,161)"/>
<circle cx="122.3" cy="740.5" r="1.06" fill="rgb(190,190,190)"/>
<circle cx="139.5" cy="727.6" r="0.64" fill="rgb(212,212,212)"/>
<circle cx="125.5" cy="735.7" r="0.65" fill="rgb(146,146,146)"/>
<circle cx="147.8" cy="725.3" r="1.12" fill="rgb(158,158,158)"/>
<circle cx="146.7" cy="786.1" r="1.10" fill="rgb(203,203,203)"/>
<circle cx="151.2" cy="777.6" r="0.86" fill="rgb(138,138,138)"/>
<circle cx="140.5" cy="703.7" r="0.55" fill="rgb(123,123,123)"/>
<circle cx="154.1" cy="758.6" r="1.04" fill="rgb(120,120,120)"/>
<circle cx="125.9" cy="742.7" r="1.10" fill="rgb(177,177,177)"/>
<circle cx="108.8" cy="785.2" r="0.69" fill="rgb(201,201,201)"/>
<circle cx="122.1" cy="760.5" r="1.28" fill="rgb(172,172,172)"/>
<circle cx="134.8" cy="738.5" r="0.85" fill="rgb(143,143,143)"/>
<circle cx="144.9" cy="780.3" r="0.52" fill="rgb(129,129,129)"/>
<circle cx="156.1" cy="712.9" r="0.63" fill="rgb(190,190,190)"/>
<circle cx="133.1" cy="707.2" r="1.34" fill="rgb(186,186,186)"/>
<circle cx="150.3" cy="788.7" r="0.60" fill="rgb(161,161,161)"/>
<circle cx="120.9" cy="778.5" r="0.78" fill="rgb(187,187,187)"/>
<circle cx="132.3" cy="754.5" r="0.77" fill="rgb(167,167,167)"/>
<circle cx="109.2" cy="722.0" r="1.35" fill="rgb(214,214,214)"/>
<circle cx="109.8" cy="764.6" r="0.85" fill="rgb(179,179,179)"/>
<circle cx="150.9" cy="733.6" r="0.97" fill="rgb(181,181,181)"/>
<circle cx="126.0" cy="756.4" r="0.89" fill="rgb(205,205,205)"/>
<circle cx="120.4" cy="739.5" r="1.27" fill="rgb(143,143,143)"/>
<circle cx="151.7" cy="720.3" r="1.11" fill="rgb(176,176,176)"/>
<circle cx="137.3" cy="704.1" r="0.81" fill="rgb(120,120,120)"/>
<circle cx="141.5" cy="709.0" r="0.64" fill="rgb(177,177,177)"/>
<circle cx="115.7" cy="748.4" r="0.80" fill="rgb(181,181,181)"/>
<circle cx="135.1" cy="783.6" r="1.14" fill="rgb(146,146,146)"/>
<circle cx="142.4" cy="730.7" r="0.64" fill="rgb(151,151,151)"/>
<circle cx="122.4" cy="700.3" r="0.58" fill="rgb(124,124,124)"/>
<circle cx="119.7" cy="750.8" r="1.30" fill="rgb(160,160,160)"/>
<circle cx="111.1" cy="785.8" r="0.76" fill="rgb(210,210,210)"/>
<circle cx="139.0" cy="731.6" r="0.56" fill="rgb(213,213,213)"/>
<circle cx="139.2" cy="709.0" r="1.02" fill="rgb(204,204,204)"/>
<circle cx="112.4" cy="775.7" r="0.67" fill="rgb(198,198,198)"/>
<circle cx="144.2" cy="705.8" r="0.58" fill="rgb(172,172,172)"/>
<circle cx="137.6" cy="718.2" r="0.60" fill="rgb(152,152,152)"/>
<circle cx="140.6" cy="753.6" r="0.55" fill="rgb(131,131,131)"/>
<circle cx="107.7" cy="762.9" r="0.61" fill="rgb(161,161,161)"/>
<circle cx="132.1" cy="734.8" r="0.98" fill="rgb(199,199,199)"/>
<circle cx="148.4" cy="766.7" r="0.87" fill="rgb(183,183,183)"/>
<circle cx="155.2" cy="743.0" r="1.04" fill="rgb(215,215,215)"/>
<circle cx="148.5" cy="713.3" r="0.50" fill="rgb(126,126,126)"/>
<circle cx="116.0" cy="746.9" r="0.76" fill="rgb(145,145,145)"/>
<circle cx="137.2" cy="748.6" r="0.58" fill="rgb(181,181,181)"/>
<circle cx="146.0" cy="758.0" r="1.19" fill="rgb(154,154,154)"/>
<circle cx="120.2" cy="764.8" r="1.21" fill="rgb(139,139,139)"/>
<circle cx="126.6" cy="703.6" r="1.18" fill="rgb(209,209,209)"/>
<circle cx="128.5" cy="699.7" r="0.76" fill="rgb(206,206,206)"/>
<circle cx="112.7" cy="746.2" r="1.24" fill="rgb(182,182,182)"/>
<circle cx="134.4" cy="770.1" r="0.55" fill="rgb(206,206,206)"/>
<circle cx="136.0" cy="701.5" r="0.84" fill="rgb(163,163,163)"/>
<circle cx="135.0" cy="744.1" r="1.33" fill="rgb(196,196,196)"/>
<circle cx="112.7" cy="752.6" r="0.71" fill="rgb(135,135,135)"/>
<circle cx="148.0" cy="780.8" r="0.66" fill="rgb(206,206,206)"/>
<circle cx="125.3" cy="769.1" r="0.66" fill="rgb(150,150,150)"/>
<circle cx="150.2" cy="753.2" r="1.18" fill="rgb(124,124,124)"/>
<circle cx="125.6" cy="753.7" r="1.16" fill="rgb(121,121,121)"/>
<circle cx="111.1" cy="703.2" r="1.04" fill="rgb(127,127,127)"/>
<circle cx="154.2" cy="766.2" r="0.84" fill="rgb(212,212,212)"/>
<circle cx="125.6" cy="740.0" r="0.51" fill="rgb(133,133,133)"/>
<circle cx="110.6" cy="765.6" r="0.51" fill="rgb(215,215,215)"/>
<circle cx="138.1" cy="781.1" r="1.21" fill="rgb(158,158,158)"/>
<circle cx="153.4" cy="727.2" r="0.66" fill="rgb(182,182,182)"/>
<circle cx="148.7" cy="723.1" r="1.00" fill="rgb(124,124,124)"/>
<circle cx="115.2" cy="788.2" r="0.57" fill="rgb(142,142,142)"/>
<circle cx="141.9" cy="734.9" r="0.61" fill="rgb(150,150,150)"/>
<circle cx="109.0" cy="751.1" r="0.78" fill="rgb(125,125,125)"/>
<circle cx="109.5" cy="756.8" r="1.02" fill="rgb(141,141,141)"/>
<circle cx="112.1" cy="727.5" r="0.91" fill="rgb(132,132,132)"/>
<circle cx="125.3" cy="712.3" r="0.56" fill="rgb(141,141,141)"/>
<circle cx="108.1" cy="725.9" r="1.13" fill="rgb(195,195,195)"/>
<circle cx="151.6" cy="712.7" r="0.90" fill="rgb(172,172,172)"/>
<circle cx="156.0" cy="706.2" r="0.84" fill="rgb(179,179,179)"/>
<circle cx="153.0" cy="785.8" r="0.92" fill="rgb(126,126,126)"/>
<circle cx="145.9" cy="787.9" r="0.84" fill="rgb(205,205,205)"/>
<circle cx="139.5" cy="736.6" r="0.54" fill="rgb(210,210,210)"/>
<circle cx="126.3" cy="765.5" r="0.72" fill="rgb(153,153,153)"/>
<circle cx="106.7" cy="708.4" r="1.24" fill="rgb(120,120,120)"/>
<circle cx="108.1" cy="740.5" r="0.97" fill="rgb(176,176,176)"/>
<circle cx="131.4" cy="765.9" r="0.67" fill="rgb(200,200,200)"/>
<circle cx="118.2" cy="700.8" r="0.53" fill="rgb(148,148,148)"/>
<circle cx="124.1" cy="699.3" r="1.20" fill="rgb(207,207,207)"/>
</g><g filter="url(#b1)">
<path d="M108.3,688.5 L110.0,696.6" fill="none" stroke="#8a8a8a" stroke-width="2.6" stroke-linecap="round" stroke-linejoin="round" opacity="1"/>
<path d="M157.4,684.0 L152.8,695.5" fill="none" stroke="#8a8a8a" stroke-width="3" stroke-linecap="round" stroke-linejoin="round" opacity="1"/>
<ellipse cx="140.0" cy="733.5" rx="11.5" ry="14" fill="#6e6e6e" transform="rotate(-8 140 733.5)" opacity="1"/>
<ellipse cx="124.0" cy="750.0" rx="8" ry="10" fill="#a8a8a8" opacity="1"/>
</g><g filter="url(#b0)">
<path d="M125.7,687.4 L125.0,693.0 L124.5,699.0" fill="none" stroke="#505050" stroke-width="3" stroke-linecap="round" stroke-linejoin="round" opacity="1"/>
<path d="M136.6,687.4 L136.0,695.5" fill="none" stroke="#4a4a4a" stroke-width="3" stroke-linecap="round" stroke-linejoin="round" opacity="1"/>
<path d="M125.0,703.5 L124.0,710.5" fill="none" stroke="#333" stroke-width="3" stroke-linecap="round" stroke-linejoin="round" opacity="1"/>
<path d="M129.7,703.5 L128.8,712.0 L128.0,720.8" fill="none" stroke="#555" stroke-width="2.8" stroke-linecap="round" stroke-linejoin="round" opacity="1"/>
<ellipse cx="111.2" cy="707.0" rx="2.6" ry="3.8" fill="#3a3a3a" opacity="1"/>
<ellipse cx="113.5" cy="710.0" rx="1.5" ry="2" fill="#555" opacity="1"/>
<ellipse cx="149.3" cy="705.8" rx="3" ry="3.5" fill="#5a5a5a" opacity="1"/>
<ellipse cx="151.0" cy="710.0" rx="2" ry="2.5" fill="#666" opacity="1"/>
<ellipse cx="131.0" cy="732.0" rx="2.5" ry="1.6" fill="#222" opacity="1"/>
<ellipse cx="127.0" cy="737.0" rx="2" ry="3" fill="#2a2a2a" opacity="1"/>
<ellipse cx="133.5" cy="740.0" rx="2.2" ry="3.5" fill="#222" opacity="1"/>
<ellipse cx="128.0" cy="745.0" rx="2" ry="2.5" fill="#333" opacity="1"/>
<ellipse cx="136.5" cy="746.5" rx="2.5" ry="2.2" fill="#1a1a1a" opacity="1"/>
<ellipse cx="131.0" cy="748.0" rx="1.5" ry="1.5" fill="#333" opacity="1"/>
<ellipse cx="124.0" cy="733.0" rx="1.3" ry="1.5" fill="#444" opacity="1"/>
<ellipse cx="138.5" cy="736.0" rx="1.5" ry="2" fill="#333" opacity="1"/>
<ellipse cx="130.3" cy="773.5" rx="4.6" ry="3.5" fill="#000" opacity="1"/>
<ellipse cx="122.2" cy="766.6" rx="1" ry="1.3" fill="#333" opacity="1"/>
<ellipse cx="140.0" cy="767.8" rx="1" ry="1.3" fill="#333" opacity="1"/>
<ellipse cx="136.0" cy="759.0" rx="1.2" ry="1.2" fill="#444" opacity="1"/>
<ellipse cx="117.0" cy="757.0" rx="1" ry="1" fill="#555" opacity="1"/>
<path d="M113.0,781.0 L113.4,787.0" fill="none" stroke="#777" stroke-width="1.6" stroke-linecap="round" stroke-linejoin="round" opacity="1"/>
<path d="M148.0,781.0 L148.2,787.0" fill="none" stroke="#777" stroke-width="1.6" stroke-linecap="round" stroke-linejoin="round" opacity="1"/>
</g>
<g filter="url(#b2)">
<path d="M213.5,679.0 L226.5,679.0 L227.5,687.0 L243.0,689.0 L244.0,719.0 L242.0,759.0 L240.0,789.0 L200.0,789.0 L198.0,759.0 L196.0,719.0 L197.0,689.0 L212.5,687.0 Z" fill="#f5f5f5" stroke="#f5f5f5" stroke-width="1" stroke-linejoin="round" opacity="1"/>
<ellipse cx="210.0" cy="752.0" rx="5" ry="9" fill="#e0e0e0" opacity="1"/>
</g><g filter="url(#b0)">
<circle cx="225.9" cy="760.6" r="1.16" fill="rgb(239,239,239)"/>
<circle cx="231.5" cy="780.5" r="1.09" fill="rgb(196,196,196)"/>
<circle cx="233.2" cy="706.4" r="1.13" fill="rgb(198,198,198)"/>
<circle cx="201.4" cy="730.6" r="0.77" fill="rgb(210,210,210)"/>
<circle cx="200.9" cy="706.4" r="0.79" fill="rgb(208,208,208)"/>
<circle cx="204.7" cy="774.4" r="0.61" fill="rgb(219,219,219)"/>
<circle cx="234.3" cy="694.3" r="0.81" fill="rgb(234,234,234)"/>
<circle cx="202.3" cy="786.0" r="0.65" fill="rgb(195,195,195)"/>
<circle cx="206.3" cy="787.1" r="0.70" fill="rgb(205,205,205)"/>
<circle cx="242.2" cy="738.3" r="0.94" fill="rgb(238,238,238)"/>
<circle cx="204.7" cy="785.5" r="1.18" fill="rgb(207,207,207)"/>
<circle cx="238.9" cy="711.9" r="0.79" fill="rgb(218,218,218)"/>
<circle cx="240.9" cy="708.0" r="0.71" fill="rgb(216,216,216)"/>
<circle cx="224.9" cy="679.4" r="1.00" fill="rgb(238,238,238)"/>
<circle cx="199.2" cy="718.1" r="0.84" fill="rgb(214,214,214)"/>
<circle cx="211.2" cy="731.9" r="0.62" fill="rgb(240,240,240)"/>
<circle cx="208.3" cy="782.3" r="1.09" fill="rgb(217,217,217)"/>
<circle cx="213.6" cy="742.6" r="0.82" fill="rgb(195,195,195)"/>
<circle cx="230.0" cy="747.6" r="0.58" fill="rgb(207,207,207)"/>
<circle cx="207.8" cy="769.1" r="0.74" fill="rgb(224,224,224)"/>
<circle cx="213.0" cy="736.7" r="0.58" fill="rgb(224,224,224)"/>
<circle cx="231.9" cy="766.7" r="0.53" fill="rgb(213,213,213)"/>
<circle cx="241.4" cy="689.0" r="0.86" fill="rgb(216,216,216)"/>
<circle cx="213.4" cy="695.3" r="1.15" fill="rgb(212,212,212)"/>
<circle cx="222.2" cy="713.4" r="0.71" fill="rgb(215,215,215)"/>
<circle cx="234.3" cy="747.9" r="0.72" fill="rgb(239,239,239)"/>
<circle cx="219.2" cy="758.2" r="1.19" fill="rgb(200,200,200)"/>
<circle cx="221.6" cy="723.6" r="1.02" fill="rgb(210,210,210)"/>
<circle cx="212.5" cy="706.5" r="0.80" fill="rgb(236,236,236)"/>
<circle cx="197.6" cy="733.3" r="0.59" fill="rgb(208,208,208)"/>
<circle cx="231.1" cy="783.5" r="1.13" fill="rgb(235,235,235)"/>
<circle cx="215.9" cy="697.6" r="0.60" fill="rgb(218,218,218)"/>
<circle cx="236.5" cy="711.4" r="1.15" fill="rgb(224,224,224)"/>
<circle cx="225.8" cy="697.6" r="0.82" fill="rgb(228,228,228)"/>
<circle cx="219.4" cy="759.2" r="0.69" fill="rgb(225,225,225)"/>
<circle cx="218.6" cy="778.2" r="0.76" fill="rgb(202,202,202)"/>
<circle cx="226.1" cy="733.9" r="0.63" fill="rgb(216,216,216)"/>
<circle cx="219.6" cy="735.7" r="1.11" fill="rgb(230,230,230)"/>
<circle cx="213.3" cy="765.5" r="0.99" fill="rgb(217,217,217)"/>
<circle cx="227.9" cy="762.6" r="0.89" fill="rgb(218,218,218)"/>
<circle cx="228.1" cy="770.9" r="1.04" fill="rgb(211,211,211)"/>
<circle cx="229.2" cy="711.3" r="0.95" fill="rgb(216,216,216)"/>
<circle cx="223.9" cy="680.3" r="1.04" fill="rgb(230,230,230)"/>
<circle cx="211.6" cy="709.1" r="1.07" fill="rgb(213,213,213)"/>
<circle cx="227.1" cy="766.7" r="0.69" fill="rgb(217,217,217)"/>
<circle cx="212.6" cy="782.1" r="0.75" fill="rgb(221,221,221)"/>
<circle cx="236.5" cy="774.7" r="0.81" fill="rgb(239,239,239)"/>
<circle cx="213.5" cy="715.8" r="0.87" fill="rgb(204,204,204)"/>
<circle cx="204.0" cy="771.0" r="0.70" fill="rgb(225,225,225)"/>
<circle cx="199.8" cy="752.8" r="0.62" fill="rgb(221,221,221)"/>
<circle cx="233.5" cy="742.9" r="1.16" fill="rgb(237,237,237)"/>
<circle cx="210.5" cy="739.9" r="0.69" fill="rgb(235,235,235)"/>
<circle cx="224.1" cy="747.6" r="0.65" fill="rgb(206,206,206)"/>
<circle cx="228.9" cy="748.4" r="1.19" fill="rgb(197,197,197)"/>
<circle cx="243.0" cy="697.2" r="0.58" fill="rgb(203,203,203)"/>
<circle cx="242.5" cy="732.1" r="0.52" fill="rgb(230,230,230)"/>
<circle cx="218.3" cy="720.8" r="0.55" fill="rgb(234,234,234)"/>
<circle cx="205.8" cy="758.0" r="0.50" fill="rgb(218,218,218)"/>
<circle cx="215.5" cy="709.6" r="1.11" fill="rgb(221,221,221)"/>
<circle cx="229.1" cy="739.2" r="0.88" fill="rgb(197,197,197)"/>
<circle cx="210.5" cy="711.5" r="0.74" fill="rgb(227,227,227)"/>
<circle cx="223.9" cy="784.4" r="0.79" fill="rgb(203,203,203)"/>
<circle cx="235.0" cy="749.7" r="0.83" fill="rgb(218,218,218)"/>
<circle cx="203.5" cy="721.1" r="1.17" fill="rgb(225,225,225)"/>
<circle cx="242.5" cy="745.9" r="1.07" fill="rgb(217,217,217)"/>
<circle cx="227.8" cy="721.0" r="0.90" fill="rgb(215,215,215)"/>
<circle cx="225.5" cy="694.5" r="1.11" fill="rgb(235,235,235)"/>
<circle cx="223.1" cy="726.2" r="0.85" fill="rgb(209,209,209)"/>
<circle cx="219.0" cy="756.9" r="1.17" fill="rgb(219,219,219)"/>
<circle cx="239.9" cy="744.5" r="1.02" fill="rgb(211,211,211)"/>
<circle cx="210.4" cy="706.6" r="0.72" fill="rgb(196,196,196)"/>
<circle cx="243.2" cy="733.1" r="0.60" fill="rgb(213,213,213)"/>
<circle cx="242.1" cy="706.0" r="1.05" fill="rgb(197,197,197)"/>
<circle cx="221.6" cy="709.1" r="1.05" fill="rgb(225,225,225)"/>
<circle cx="207.8" cy="708.4" r="1.01" fill="rgb(204,204,204)"/>
<circle cx="209.7" cy="733.1" r="0.86" fill="rgb(225,225,225)"/>
<circle cx="237.4" cy="775.9" r="0.51" fill="rgb(202,202,202)"/>
<circle cx="202.0" cy="710.1" r="0.74" fill="rgb(240,240,240)"/>
<circle cx="210.2" cy="737.3" r="0.74" fill="rgb(224,224,224)"/>
<circle cx="228.7" cy="768.4" r="0.53" fill="rgb(203,203,203)"/>
<circle cx="208.1" cy="729.1" r="1.12" fill="rgb(201,201,201)"/>
<circle cx="222.2" cy="680.6" r="0.92" fill="rgb(222,222,222)"/>
<circle cx="229.1" cy="783.9" r="0.84" fill="rgb(236,236,236)"/>
<circle cx="239.8" cy="721.4" r="0.98" fill="rgb(220,220,220)"/>
<circle cx="230.5" cy="777.9" r="1.08" fill="rgb(224,224,224)"/>
<circle cx="199.2" cy="771.0" r="1.05" fill="rgb(239,239,239)"/>
<circle cx="223.9" cy="750.3" r="1.14" fill="rgb(225,225,225)"/>
<circle cx="202.8" cy="731.6" r="1.12" fill="rgb(230,230,230)"/>
<circle cx="242.7" cy="738.2" r="0.91" fill="rgb(222,222,222)"/>
<circle cx="207.0" cy="769.2" r="0.96" fill="rgb(199,199,199)"/>
<circle cx="236.4" cy="703.1" r="1.08" fill="rgb(236,236,236)"/>
<circle cx="201.3" cy="777.4" r="0.99" fill="rgb(213,213,213)"/>
<circle cx="217.0" cy="699.1" r="0.79" fill="rgb(206,206,206)"/>
<circle cx="203.7" cy="747.5" r="0.89" fill="rgb(197,197,197)"/>
<circle cx="227.7" cy="761.0" r="0.54" fill="rgb(212,212,212)"/>
<circle cx="223.6" cy="760.7" r="0.59" fill="rgb(234,234,234)"/>
<circle cx="216.7" cy="713.6" r="0.84" fill="rgb(233,233,233)"/>
<circle cx="213.0" cy="751.2" r="0.60" fill="rgb(198,198,198)"/>
<circle cx="210.1" cy="741.6" r="0.85" fill="rgb(238,238,238)"/>
<circle cx="239.7" cy="740.0" r="0.65" fill="rgb(234,234,234)"/>
<circle cx="199.0" cy="704.9" r="0.86" fill="rgb(213,213,213)"/>
<circle cx="202.4" cy="704.8" r="0.82" fill="rgb(218,218,218)"/>
<circle cx="214.7" cy="693.4" r="0.96" fill="rgb(196,196,196)"/>
<circle cx="200.1" cy="752.5" r="1.10" fill="rgb(200,200,200)"/>
<circle cx="220.3" cy="728.9" r="1.11" fill="rgb(219,219,219)"/>
<circle cx="219.1" cy="714.6" r="0.52" fill="rgb(228,228,228)"/>
<circle cx="203.2" cy="783.7" r="1.06" fill="rgb(238,238,238)"/>
<circle cx="232.0" cy="688.2" r="0.84" fill="rgb(237,237,237)"/>
<circle cx="206.2" cy="756.2" r="0.75" fill="rgb(219,219,219)"/>
<circle cx="207.3" cy="715.7" r="0.99" fill="rgb(234,234,234)"/>
</g><g filter="url(#b1)">
<path d="M211.5,680.8 L228.5,680.8 L226.0,686.5 L214.0,686.5 Z" fill="#9a9a9a" stroke="#9a9a9a" stroke-width="1" stroke-linejoin="round" opacity="1"/>
<ellipse cx="209.5" cy="754.0" rx="3.2" ry="5.5" fill="#b0b0b0" opacity="1"/>
<ellipse cx="233.6" cy="738.5" rx="7.2" ry="14.5" fill="#d4d4d4" opacity="1"/>
<ellipse cx="222.0" cy="718.0" rx="3" ry="6" fill="#c4c4c4" opacity="1"/>
</g><g filter="url(#b0)">
<path d="M214.2,692.5 L214.4,699.0 L215.8,705.8 L218.3,710.5" fill="none" stroke="#000" stroke-width="4.6" stroke-linecap="round" stroke-linejoin="round" opacity="1"/>
<ellipse cx="214.3" cy="696.0" rx="2.8" ry="3.8" fill="#000" opacity="1"/>
<ellipse cx="215.6" cy="703.5" rx="2.4" ry="2.8" fill="#000" opacity="1"/>
<path d="M225.8,692.5 L225.2,698.0 L224.4,702.4" fill="none" stroke="#000" stroke-width="4.4" stroke-linecap="round" stroke-linejoin="round" opacity="1"/>
<ellipse cx="225.7" cy="696.5" rx="2.6" ry="3.6" fill="#000" opacity="1"/>
<path d="M224.4,702.4 L222.3,708.2" fill="none" stroke="#222" stroke-width="2.4" stroke-linecap="round" stroke-linejoin="round" opacity="1"/>
<path d="M213.8,710.5 L215.8,716.5" fill="none" stroke="#000" stroke-width="4.4" stroke-linecap="round" stroke-linejoin="round" opacity="1"/>
<path d="M219.0,709.3 L218.2,718.0 L217.3,727.8" fill="none" stroke="#000" stroke-width="4.0" stroke-linecap="round" stroke-linejoin="round" opacity="1"/>
<path d="M210.0,718.0 L212.0,723.5" fill="none" stroke="#000" stroke-width="4.0" stroke-linecap="round" stroke-linejoin="round" opacity="1"/>
<ellipse cx="214.5" cy="721.0" rx="2.2" ry="2.5" fill="#000" opacity="1"/>
<path d="M223.5,714.5 L226.0,722.0 L229.2,731.5" fill="none" stroke="#2a2a2a" stroke-width="3.0" stroke-linecap="round" stroke-linejoin="round" opacity="1"/>
<ellipse cx="221.0" cy="712.0" rx="1.8" ry="2.2" fill="#1a1a1a" opacity="1"/>
<ellipse cx="224.5" cy="726.0" rx="2" ry="2.2" fill="#111" opacity="1"/>
<ellipse cx="220.5" cy="730.0" rx="1.8" ry="1.8" fill="#222" opacity="1"/>
<ellipse cx="227.0" cy="717.0" rx="1.4" ry="1.6" fill="#333" opacity="1"/>
<ellipse cx="199.5" cy="711.5" rx="3.4" ry="4.4" fill="#000" opacity="1"/>
<ellipse cx="203.5" cy="710.0" rx="2.2" ry="2.8" fill="#000" opacity="1"/>
<ellipse cx="203.0" cy="715.5" rx="2.0" ry="2.2" fill="#000" opacity="1"/>
<ellipse cx="198.5" cy="716.5" rx="1.8" ry="2.0" fill="#111" opacity="1"/>
<ellipse cx="234.5" cy="710.5" rx="3.0" ry="3.0" fill="#111" opacity="1"/>
<ellipse cx="238.5" cy="713.0" rx="3.2" ry="3.8" fill="#000" opacity="1"/>
<ellipse cx="241.0" cy="717.0" rx="2.0" ry="2.0" fill="#1a1a1a" opacity="1"/>
<ellipse cx="232.0" cy="709.0" rx="1.8" ry="1.8" fill="#333" opacity="1"/>
<ellipse cx="236.0" cy="716.5" rx="1.8" ry="2.0" fill="#222" opacity="1"/>
<ellipse cx="207.0" cy="708.0" rx="1.3" ry="1.4" fill="#111" opacity="1"/>
<path d="M201.0,732.8 L207.0,735.0 L213.0,737.6" fill="none" stroke="#000" stroke-width="5.6" stroke-linecap="round" stroke-linejoin="round" opacity="1"/>
<path d="M210.0,735.2 L218.8,733.8 L226.0,736.0 L229.0,744.0 L236.5,747.5 L238.5,754.3 L235.0,761.0 L232.0,768.0 L227.5,765.5 L222.5,762.0 L216.0,758.5 L212.0,754.0 L210.3,745.0 Z" fill="#000" stroke="#000" stroke-width="1" stroke-linejoin="round" opacity="1"/>
<ellipse cx="214.0" cy="760.0" rx="2.2" ry="2.5" fill="#222" opacity="1"/>
<ellipse cx="209.0" cy="749.0" rx="1.6" ry="2.5" fill="#444" opacity="1"/>
<ellipse cx="214.2" cy="769.3" rx="1.9" ry="2.3" fill="#000" opacity="1"/>
<ellipse cx="211.3" cy="772.8" rx="2.0" ry="2.2" fill="#000" opacity="1"/>
<ellipse cx="213.0" cy="776.4" rx="1.8" ry="2.1" fill="#000" opacity="1"/>
<ellipse cx="217.7" cy="779.7" rx="3.0" ry="2.1" fill="#000" opacity="1"/>
<ellipse cx="220.0" cy="775.0" rx="1.7" ry="1.8" fill="#111" opacity="1"/>
<ellipse cx="224.6" cy="771.6" rx="1.8" ry="2.3" fill="#000" opacity="1"/>
<ellipse cx="228.0" cy="772.8" rx="1.9" ry="2.3" fill="#000" opacity="1"/>
<ellipse cx="225.8" cy="777.4" rx="1.8" ry="2.0" fill="#000" opacity="1"/>
<ellipse cx="232.7" cy="778.5" rx="1.6" ry="1.9" fill="#222" opacity="1"/>
<ellipse cx="208.5" cy="787.8" rx="1.3" ry="1.6" fill="#333" opacity="1"/>
<ellipse cx="216.0" cy="766.0" rx="1.5" ry="1.5" fill="#222" opacity="1"/>
<ellipse cx="230.0" cy="768.0" rx="1.5" ry="1.7" fill="#222" opacity="1"/>
<ellipse cx="219.5" cy="769.0" rx="1.4" ry="1.4" fill="#333" opacity="1"/>
<ellipse cx="206.0" cy="780.0" rx="1.2" ry="1.5" fill="#555" opacity="1"/>
<ellipse cx="234.0" cy="785.0" rx="1.2" ry="1.5" fill="#555" opacity="1"/>
<ellipse cx="222.0" cy="783.0" rx="1.3" ry="1.3" fill="#444" opacity="1"/>
<ellipse cx="209.0" cy="765.0" rx="1.2" ry="1.2" fill="#555" opacity="1"/>
</g>
<g filter="url(#b2)">
<path d="M295.3,679.0 L308.3,679.0 L309.3,687.0 L324.8,689.0 L325.8,719.0 L323.8,759.0 L321.8,789.0 L281.8,789.0 L279.8,759.0 L277.8,719.0 L278.8,689.0 L294.3,687.0 Z" fill="#f5f5f5" stroke="#f5f5f5" stroke-width="1" stroke-linejoin="round" opacity="1"/>
<ellipse cx="291.8" cy="752.0" rx="5" ry="9" fill="#e0e0e0" opacity="1"/>
</g><g filter="url(#b0)">
<circle cx="300.0" cy="720.1" r="0.63" fill="rgb(203,203,203)"/>
<circle cx="310.3" cy="716.2" r="1.13" fill="rgb(224,224,224)"/>
<circle cx="281.7" cy="740.0" r="0.99" fill="rgb(234,234,234)"/>
<circle cx="312.8" cy="697.6" r="1.17" fill="rgb(223,223,223)"/>
<circle cx="298.1" cy="697.5" r="0.58" fill="rgb(198,198,198)"/>
<circle cx="302.1" cy="780.6" r="0.54" fill="rgb(232,232,232)"/>
<circle cx="310.8" cy="765.9" r="1.14" fill="rgb(201,201,201)"/>
<circle cx="287.6" cy="703.7" r="1.12" fill="rgb(221,221,221)"/>
<circle cx="314.9" cy="779.3" r="0.70" fill="rgb(220,220,220)"/>
<circle cx="316.7" cy="700.9" r="1.12" fill="rgb(195,195,195)"/>
<circle cx="280.4" cy="720.7" r="0.60" fill="rgb(226,226,226)"/>
<circle cx="289.2" cy="760.0" r="1.17" fill="rgb(202,202,202)"/>
<circle cx="287.3" cy="772.7" r="0.51" fill="rgb(216,216,216)"/>
<circle cx="281.8" cy="738.4" r="0.85" fill="rgb(196,196,196)"/>
<circle cx="305.3" cy="738.1" r="0.79" fill="rgb(207,207,207)"/>
<circle cx="296.9" cy="749.3" r="0.99" fill="rgb(200,200,200)"/>
<circle cx="284.8" cy="782.4" r="0.54" fill="rgb(197,197,197)"/>
<circle cx="304.4" cy="745.7" r="1.02" fill="rgb(204,204,204)"/>
<circle cx="313.2" cy="742.3" r="0.58" fill="rgb(197,197,197)"/>
<circle cx="311.7" cy="783.6" r="0.61" fill="rgb(210,210,210)"/>
<circle cx="302.0" cy="760.0" r="0.87" fill="rgb(238,238,238)"/>
<circle cx="304.9" cy="754.6" r="0.58" fill="rgb(217,217,217)"/>
<circle cx="320.1" cy="719.2" r="0.78" fill="rgb(208,208,208)"/>
<circle cx="293.6" cy="726.7" r="0.66" fill="rgb(208,208,208)"/>
<circle cx="290.7" cy="768.6" r="0.94" fill="rgb(214,214,214)"/>
<circle cx="282.7" cy="765.3" r="0.77" fill="rgb(196,196,196)"/>
<circle cx="304.7" cy="726.2" r="1.00" fill="rgb(217,217,217)"/>
<circle cx="289.7" cy="760.1" r="0.95" fill="rgb(222,222,222)"/>
<circle cx="282.4" cy="762.7" r="0.76" fill="rgb(227,227,227)"/>
<circle cx="319.1" cy="719.6" r="0.70" fill="rgb(237,237,237)"/>
<circle cx="311.0" cy="775.3" r="0.54" fill="rgb(196,196,196)"/>
<circle cx="324.6" cy="698.0" r="1.19" fill="rgb(205,205,205)"/>
<circle cx="306.9" cy="680.3" r="0.82" fill="rgb(198,198,198)"/>
<circle cx="315.6" cy="711.4" r="1.18" fill="rgb(195,195,195)"/>
<circle cx="294.8" cy="694.5" r="0.69" fill="rgb(230,230,230)"/>
<circle cx="292.0" cy="692.0" r="0.82" fill="rgb(221,221,221)"/>
<circle cx="311.6" cy="763.1" r="0.91" fill="rgb(219,219,219)"/>
<circle cx="316.3" cy="752.0" r="1.04" fill="rgb(212,212,212)"/>
<circle cx="320.1" cy="733.4" r="1.15" fill="rgb(201,201,201)"/>
<circle cx="291.1" cy="693.1" r="1.07" fill="rgb(235,235,235)"/>
<circle cx="285.6" cy="765.9" r="0.64" fill="rgb(195,195,195)"/>
<circle cx="300.5" cy="744.1" r="0.77" fill="rgb(229,229,229)"/>
<circle cx="286.1" cy="732.0" r="0.87" fill="rgb(211,211,211)"/>
<circle cx="303.9" cy="736.6" r="0.95" fill="rgb(229,229,229)"/>
<circle cx="316.0" cy="775.5" r="0.88" fill="rgb(231,231,231)"/>
<circle cx="292.2" cy="758.7" r="0.57" fill="rgb(203,203,203)"/>
<circle cx="311.4" cy="728.9" r="1.12" fill="rgb(226,226,226)"/>
<circle cx="312.7" cy="753.7" r="0.76" fill="rgb(196,196,196)"/>
<circle cx="320.0" cy="704.4" r="0.94" fill="rgb(231,231,231)"/>
<circle cx="306.5" cy="746.5" r="0.79" fill="rgb(238,238,238)"/>
<circle cx="306.1" cy="687.9" r="0.93" fill="rgb(197,197,197)"/>
<circle cx="294.8" cy="730.7" r="0.83" fill="rgb(229,229,229)"/>
<circle cx="281.9" cy="714.4" r="1.17" fill="rgb(224,224,224)"/>
<circle cx="306.1" cy="786.4" r="1.08" fill="rgb(225,225,225)"/>
<circle cx="282.9" cy="717.4" r="0.82" fill="rgb(209,209,209)"/>
<circle cx="284.0" cy="785.6" r="0.58" fill="rgb(201,201,201)"/>
<circle cx="283.6" cy="782.2" r="0.76" fill="rgb(200,200,200)"/>
<circle cx="313.4" cy="730.4" r="0.64" fill="rgb(228,228,228)"/>
<circle cx="290.0" cy="746.2" r="0.86" fill="rgb(201,201,201)"/>
<circle cx="297.8" cy="777.9" r="1.10" fill="rgb(225,225,225)"/>
<circle cx="306.9" cy="703.3" r="0.98" fill="rgb(198,198,198)"/>
<circle cx="286.8" cy="717.9" r="1.15" fill="rgb(220,220,220)"/>
<circle cx="319.9" cy="780.2" r="0.52" fill="rgb(201,201,201)"/>
<circle cx="298.9" cy="724.8" r="0.84" fill="rgb(215,215,215)"/>
<circle cx="294.5" cy="771.1" r="0.80" fill="rgb(220,220,220)"/>
<circle cx="281.6" cy="712.1" r="0.93" fill="rgb(224,224,224)"/>
<circle cx="305.1" cy="727.4" r="0.73" fill="rgb(206,206,206)"/>
<circle cx="280.6" cy="689.1" r="0.88" fill="rgb(215,215,215)"/>
<circle cx="286.9" cy="757.3" r="1.13" fill="rgb(237,237,237)"/>
<circle cx="306.6" cy="782.5" r="1.01" fill="rgb(237,237,237)"/>
<circle cx="287.9" cy="738.6" r="0.55" fill="rgb(216,216,216)"/>
<circle cx="309.9" cy="725.4" r="1.11" fill="rgb(209,209,209)"/>
<circle cx="293.3" cy="770.7" r="0.85" fill="rgb(227,227,227)"/>
<circle cx="300.0" cy="679.4" r="0.64" fill="rgb(229,229,229)"/>
<circle cx="288.5" cy="787.2" r="0.53" fill="rgb(215,215,215)"/>
<circle cx="285.0" cy="697.0" r="0.86" fill="rgb(201,201,201)"/>
<circle cx="315.7" cy="723.4" r="0.77" fill="rgb(220,220,220)"/>
<circle cx="306.0" cy="774.5" r="0.98" fill="rgb(227,227,227)"/>
<circle cx="295.0" cy="708.7" r="1.14" fill="rgb(215,215,215)"/>
<circle cx="305.0" cy="766.9" r="0.90" fill="rgb(206,206,206)"/>
<circle cx="278.8" cy="731.7" r="0.80" fill="rgb(238,238,238)"/>
<circle cx="324.7" cy="689.3" r="0.60" fill="rgb(213,213,213)"/>
<circle cx="299.5" cy="753.8" r="0.63" fill="rgb(209,209,209)"/>
<circle cx="284.8" cy="753.6" r="0.54" fill="rgb(233,233,233)"/>
<circle cx="291.2" cy="716.9" r="0.63" fill="rgb(232,232,232)"/>
<circle cx="315.2" cy="752.6" r="0.82" fill="rgb(201,201,201)"/>
<circle cx="294.2" cy="761.3" r="1.13" fill="rgb(203,203,203)"/>
<circle cx="288.2" cy="701.3" r="0.90" fill="rgb(238,238,238)"/>
<circle cx="280.2" cy="764.1" r="0.85" fill="rgb(217,217,217)"/>
<circle cx="280.7" cy="767.9" r="1.12" fill="rgb(220,220,220)"/>
<circle cx="298.8" cy="758.9" r="0.89" fill="rgb(207,207,207)"/>
<circle cx="321.9" cy="785.1" r="1.12" fill="rgb(200,200,200)"/>
<circle cx="290.3" cy="706.2" r="1.18" fill="rgb(225,225,225)"/>
<circle cx="286.7" cy="737.4" r="0.88" fill="rgb(237,237,237)"/>
<circle cx="310.0" cy="786.2" r="0.52" fill="rgb(206,206,206)"/>
<circle cx="312.2" cy="743.5" r="0.96" fill="rgb(207,207,207)"/>
<circle cx="294.1" cy="756.8" r="0.71" fill="rgb(216,216,216)"/>
<circle cx="279.5" cy="723.6" r="0.82" fill="rgb(210,210,210)"/>
<circle cx="286.1" cy="694.8" r="1.00" fill="rgb(231,231,231)"/>
<circle cx="308.4" cy="766.5" r="0.77" fill="rgb(232,232,232)"/>
<circle cx="314.1" cy="776.4" r="0.61" fill="rgb(227,227,227)"/>
<circle cx="296.0" cy="784.6" r="0.60" fill="rgb(220,220,220)"/>
<circle cx="297.8" cy="761.3" r="0.95" fill="rgb(237,237,237)"/>
<circle cx="282.3" cy="785.1" r="0.68" fill="rgb(228,228,228)"/>
<circle cx="295.7" cy="763.9" r="0.88" fill="rgb(217,217,217)"/>
<circle cx="308.8" cy="730.0" r="0.64" fill="rgb(201,201,201)"/>
<circle cx="278.5" cy="730.1" r="0.68" fill="rgb(202,202,202)"/>
<circle cx="309.9" cy="724.6" r="0.76" fill="rgb(212,212,212)"/>
<circle cx="308.5" cy="714.5" r="0.89" fill="rgb(205,205,205)"/>
<circle cx="311.9" cy="718.4" r="1.04" fill="rgb(230,230,230)"/>
</g><g filter="url(#b1)">
<path d="M295.3,682.0 L307.3,682.0 L306.8,684.2 L295.8,684.2 Z" fill="#b0b0b0" stroke="#b0b0b0" stroke-width="1" stroke-linejoin="round" opacity="1"/>
<ellipse cx="291.3" cy="754.0" rx="3.2" ry="5.5" fill="#b0b0b0" opacity="1"/>
<ellipse cx="315.4" cy="738.5" rx="7.2" ry="14.5" fill="#a4a4a4" opacity="1"/>
<ellipse cx="303.8" cy="718.0" rx="3" ry="6" fill="#c4c4c4" opacity="1"/>
</g><g filter="url(#b0)">
<path d="M296.0,692.5 L296.2,699.0 L297.6,705.8 L300.1,710.5" fill="none" stroke="#000" stroke-width="4.6" stroke-linecap="round" stroke-linejoin="round" opacity="1"/>
<ellipse cx="296.1" cy="696.0" rx="2.8" ry="3.8" fill="#000" opacity="1"/>
<ellipse cx="297.4" cy="703.5" rx="2.4" ry="2.8" fill="#000" opacity="1"/>
<path d="M307.6,692.5 L307.0,698.0 L306.2,702.4" fill="none" stroke="#000" stroke-width="4.4" stroke-linecap="round" stroke-linejoin="round" opacity="1"/>
<ellipse cx="307.5" cy="696.5" rx="2.6" ry="3.6" fill="#000" opacity="1"/>
<path d="M306.2,702.4 L304.1,708.2" fill="none" stroke="#222" stroke-width="2.4" stroke-linecap="round" stroke-linejoin="round" opacity="1"/>
<path d="M295.6,710.5 L297.6,716.5" fill="none" stroke="#000" stroke-width="4.4" stroke-linecap="round" stroke-linejoin="round" opacity="1"/>
<path d="M300.8,709.3 L300.0,718.0 L299.1,727.8" fill="none" stroke="#000" stroke-width="4.0" stroke-linecap="round" stroke-linejoin="round" opacity="1"/>
<path d="M291.8,718.0 L293.8,723.5" fill="none" stroke="#000" stroke-width="4.0" stroke-linecap="round" stroke-linejoin="round" opacity="1"/>
<ellipse cx="296.3" cy="721.0" rx="2.2" ry="2.5" fill="#000" opacity="1"/>
<path d="M305.3,714.5 L307.8,722.0 L311.0,731.5" fill="none" stroke="#2a2a2a" stroke-width="3.0" stroke-linecap="round" stroke-linejoin="round" opacity="1"/>
<ellipse cx="302.8" cy="712.0" rx="1.8" ry="2.2" fill="#1a1a1a" opacity="1"/>
<ellipse cx="306.3" cy="726.0" rx="2" ry="2.2" fill="#111" opacity="1"/>
<ellipse cx="302.3" cy="730.0" rx="1.8" ry="1.8" fill="#222" opacity="1"/>
<ellipse cx="308.8" cy="717.0" rx="1.4" ry="1.6" fill="#333" opacity="1"/>
<ellipse cx="281.3" cy="711.5" rx="3.4" ry="4.4" fill="#000" opacity="1"/>
<ellipse cx="285.3" cy="710.0" rx="2.2" ry="2.8" fill="#000" opacity="1"/>
<ellipse cx="284.8" cy="715.5" rx="2.0" ry="2.2" fill="#000" opacity="1"/>
<ellipse cx="280.3" cy="716.5" rx="1.8" ry="2.0" fill="#111" opacity="1"/>
<ellipse cx="316.3" cy="710.5" rx="3.0" ry="3.0" fill="#111" opacity="1"/>
<ellipse cx="320.3" cy="713.0" rx="3.2" ry="3.8" fill="#000" opacity="1"/>
<ellipse cx="322.8" cy="717.0" rx="2.0" ry="2.0" fill="#1a1a1a" opacity="1"/>
<ellipse cx="313.8" cy="709.0" rx="1.8" ry="1.8" fill="#333" opacity="1"/>
<ellipse cx="317.8" cy="716.5" rx="1.8" ry="2.0" fill="#222" opacity="1"/>
<ellipse cx="288.8" cy="708.0" rx="1.3" ry="1.4" fill="#111" opacity="1"/>
<path d="M282.8,732.8 L288.8,735.0 L294.8,737.6" fill="none" stroke="#000" stroke-width="5.6" stroke-linecap="round" stroke-linejoin="round" opacity="1"/>
<path d="M291.8,735.2 L300.6,733.8 L307.8,736.0 L310.8,744.0 L318.3,747.5 L320.3,754.3 L316.8,761.0 L313.8,768.0 L309.3,765.5 L304.3,762.0 L297.8,758.5 L293.8,754.0 L292.1,745.0 Z" fill="#000" stroke="#000" stroke-width="1" stroke-linejoin="round" opacity="1"/>
<ellipse cx="295.8" cy="760.0" rx="2.2" ry="2.5" fill="#222" opacity="1"/>
<ellipse cx="290.8" cy="749.0" rx="1.6" ry="2.5" fill="#444" opacity="1"/>
<ellipse cx="296.0" cy="769.3" rx="1.9" ry="2.3" fill="#000" opacity="1"/>
<ellipse cx="293.1" cy="772.8" rx="2.0" ry="2.2" fill="#000" opacity="1"/>
<ellipse cx="294.8" cy="776.4" rx="1.8" ry="2.1" fill="#000" opacity="1"/>
<ellipse cx="299.5" cy="779.7" rx="3.0" ry="2.1" fill="#000" opacity="1"/>
<ellipse cx="301.8" cy="775.0" rx="1.7" ry="1.8" fill="#111" opacity="1"/>
<ellipse cx="306.4" cy="771.6" rx="1.8" ry="2.3" fill="#000" opacity="1"/>
<ellipse cx="309.8" cy="772.8" rx="1.9" ry="2.3" fill="#000" opacity="1"/>
<ellipse cx="307.6" cy="777.4" rx="1.8" ry="2.0" fill="#000" opacity="1"/>
<ellipse cx="314.5" cy="778.5" rx="1.6" ry="1.9" fill="#222" opacity="1"/>
<ellipse cx="290.3" cy="787.8" rx="1.3" ry="1.6" fill="#333" opacity="1"/>
<ellipse cx="297.8" cy="766.0" rx="1.5" ry="1.5" fill="#222" opacity="1"/>
<ellipse cx="311.8" cy="768.0" rx="1.5" ry="1.7" fill="#222" opacity="1"/>
<ellipse cx="301.3" cy="769.0" rx="1.4" ry="1.4" fill="#333" opacity="1"/>
<ellipse cx="287.8" cy="780.0" rx="1.2" ry="1.5" fill="#555" opacity="1"/>
<ellipse cx="315.8" cy="785.0" rx="1.2" ry="1.5" fill="#555" opacity="1"/>
<ellipse cx="303.8" cy="783.0" rx="1.3" ry="1.3" fill="#444" opacity="1"/>
<ellipse cx="290.8" cy="765.0" rx="1.2" ry="1.2" fill="#555" opacity="1"/>
</g>
<line x1="59.9" y1="12.6" x2="59.9" y2="180.6" stroke="#8a8a8a" stroke-width="1.3"/>
<line x1="55.9" y1="12.600000000000001" x2="59.9" y2="12.600000000000001" stroke="#808080" stroke-width="1.1"/>
<text x="52.3" y="16.200000000000003" font-size="10.2" font-weight="bold" text-anchor="end" fill="#000" >25</text>
<line x1="55.9" y1="46.2" x2="59.9" y2="46.2" stroke="#808080" stroke-width="1.1"/>
<text x="52.3" y="49.800000000000004" font-size="10.2" font-weight="bold" text-anchor="end" fill="#000" >0</text>
<line x1="55.9" y1="79.80000000000001" x2="59.9" y2="79.80000000000001" stroke="#808080" stroke-width="1.1"/>
<text x="52.3" y="83.4" font-size="10.2" font-weight="bold" text-anchor="end" fill="#000" >-25</text>
<line x1="55.9" y1="113.4" x2="59.9" y2="113.4" stroke="#808080" stroke-width="1.1"/>
<text x="52.3" y="117.0" font-size="10.2" font-weight="bold" text-anchor="end" fill="#000" >-50</text>
<line x1="55.9" y1="147.0" x2="59.9" y2="147.0" stroke="#808080" stroke-width="1.1"/>
<text x="52.3" y="150.6" font-size="10.2" font-weight="bold" text-anchor="end" fill="#000" >-75</text>
<line x1="55.9" y1="180.60000000000002" x2="59.9" y2="180.60000000000002" stroke="#808080" stroke-width="1.1"/>
<text x="52.3" y="184.20000000000002" font-size="10.2" font-weight="bold" text-anchor="end" fill="#000" >-100</text>
<rect x="62.20" y="35.72" width="9.75" height="10.48" fill="#000"/>
<rect x="75.99" y="45.39" width="9.75" height="0.81" fill="#000"/>
<rect x="89.78" y="46.20" width="9.75" height="9.47" fill="#000"/>
<rect x="104.07" y="46.20" width="8.75" height="9.65" fill="#fff" stroke="#606060" stroke-width="1.0"/>
<rect x="117.86" y="46.20" width="8.75" height="15.02" fill="#fff" stroke="#606060" stroke-width="1.0"/>
<rect x="131.65" y="46.20" width="8.75" height="18.11" fill="#fff" stroke="#606060" stroke-width="1.0"/>
<rect x="145.44" y="46.20" width="8.75" height="20.13" fill="#fff" stroke="#606060" stroke-width="1.0"/>
<rect x="158.73" y="46.20" width="9.75" height="31.92" fill="#000"/>
<rect x="173.02" y="46.20" width="8.75" height="31.55" fill="#3366ff" stroke="#1f3a9a" stroke-width="1.0"/>
<rect x="186.81" y="46.20" width="8.75" height="33.43" fill="#fff" stroke="#606060" stroke-width="1.0"/>
<rect x="200.60" y="46.20" width="8.75" height="43.92" fill="#99ccff" stroke="#5f7f9f" stroke-width="1.0"/>
<rect x="213.89" y="46.20" width="9.75" height="49.39" fill="#000"/>
<rect x="228.18" y="46.20" width="8.75" height="50.10" fill="#fff" stroke="#606060" stroke-width="1.0"/>
<rect x="241.97" y="46.20" width="8.75" height="66.09" fill="#fff" stroke="#606060" stroke-width="1.0"/>
<rect x="255.76" y="46.20" width="8.75" height="80.07" fill="#99ccff" stroke="#5f7f9f" stroke-width="1.0"/>
<rect x="269.55" y="46.20" width="8.75" height="98.35" fill="#c0c0c0" stroke="#808080" stroke-width="1.0"/>
<line x1="59.9" y1="46.2" x2="282.5" y2="46.2" stroke="#404040" stroke-width="1"/>
<line x1="59.9" y1="79.80000000000001" x2="286.5" y2="79.80000000000001" stroke="#202020" stroke-width="0.9"/>
<polygon points="108.07,38.40 108.84,40.24 110.83,40.40 109.31,41.70 109.77,43.65 108.07,42.60 106.37,43.65 106.83,41.70 105.31,40.40 107.30,40.24" fill="#111"/>
<polygon points="177.02,38.40 177.79,40.24 179.78,40.40 178.26,41.70 178.72,43.65 177.02,42.60 175.32,43.65 175.78,41.70 174.26,40.40 176.25,40.24" fill="#111"/>
<polygon points="204.60,38.40 205.37,40.24 207.36,40.40 205.84,41.70 206.30,43.65 204.60,42.60 202.90,43.65 203.36,41.70 201.84,40.40 203.83,40.24" fill="#111"/>
<polygon points="232.18,38.40 232.95,40.24 234.94,40.40 233.42,41.70 233.88,43.65 232.18,42.60 230.48,43.65 230.94,41.70 229.42,40.40 231.41,40.24" fill="#111"/>
<polygon points="259.76,38.40 260.53,40.24 262.52,40.40 261.00,41.70 261.46,43.65 259.76,42.60 258.06,43.65 258.52,41.70 257.00,40.40 258.99,40.24" fill="#111"/>
<line x1="60.9" y1="242.6" x2="60.9" y2="378.5" stroke="#8a8a8a" stroke-width="1.3"/>
<line x1="56.9" y1="242.6" x2="60.9" y2="242.6" stroke="#808080" stroke-width="1.1"/>
<text x="53.3" y="246.2" font-size="10.2" font-weight="bold" text-anchor="end" fill="#000" >0</text>
<line x1="56.9" y1="276.575" x2="60.9" y2="276.575" stroke="#808080" stroke-width="1.1"/>
<text x="53.3" y="280.175" font-size="10.2" font-weight="bold" text-anchor="end" fill="#000" >-25</text>
<line x1="56.9" y1="310.55" x2="60.9" y2="310.55" stroke="#808080" stroke-width="1.1"/>
<text x="53.3" y="314.15000000000003" font-size="10.2" font-weight="bold" text-anchor="end" fill="#000" >-50</text>
<line x1="56.9" y1="344.525" x2="60.9" y2="344.525" stroke="#808080" stroke-width="1.1"/>
<text x="53.3" y="348.125" font-size="10.2" font-weight="bold" text-anchor="end" fill="#000" >-75</text>
<line x1="56.9" y1="378.5" x2="60.9" y2="378.5" stroke="#808080" stroke-width="1.1"/>
<text x="53.3" y="382.1" font-size="10.2" font-weight="bold" text-anchor="end" fill="#000" >-100</text>
<rect x="63.00" y="242.60" width="9.75" height="4.21" fill="#000"/>
<rect x="77.21" y="242.60" width="8.75" height="38.90" fill="#fff" stroke="#606060" stroke-width="1.0"/>
<rect x="90.42" y="242.60" width="9.75" height="48.64" fill="#000"/>
<rect x="104.63" y="242.60" width="8.75" height="54.67" fill="#fff" stroke="#606060" stroke-width="1.0"/>
<rect x="117.84" y="242.60" width="9.75" height="59.38" fill="#000"/>
<rect x="132.05" y="242.60" width="8.75" height="69.62" fill="#c0c0c0" stroke="#808080" stroke-width="1.0"/>
<rect x="145.26" y="242.60" width="9.75" height="80.17" fill="#000"/>
<rect x="158.97" y="242.60" width="9.75" height="87.24" fill="#000"/>
<rect x="173.18" y="242.60" width="8.75" height="89.73" fill="#fff" stroke="#606060" stroke-width="1.0"/>
<rect x="186.89" y="242.60" width="8.75" height="92.72" fill="#fff" stroke="#606060" stroke-width="1.0"/>
<rect x="200.60" y="242.60" width="8.75" height="95.98" fill="#fff" stroke="#606060" stroke-width="1.0"/>
<rect x="214.31" y="242.60" width="8.75" height="95.98" fill="#99ccff" stroke="#5f7f9f" stroke-width="1.0"/>
<rect x="228.02" y="242.60" width="8.75" height="106.45" fill="#fff" stroke="#606060" stroke-width="1.0"/>
<rect x="241.73" y="242.60" width="8.75" height="108.35" fill="#fff" stroke="#606060" stroke-width="1.0"/>
<rect x="255.44" y="242.60" width="8.75" height="109.16" fill="#3366ff" stroke="#1f3a9a" stroke-width="1.0"/>
<rect x="269.15" y="242.60" width="8.75" height="114.19" fill="#99ccff" stroke="#5f7f9f" stroke-width="1.0"/>
<line x1="60.9" y1="242.6" x2="280.5" y2="242.6" stroke="#404040" stroke-width="1"/>
<line x1="60.9" y1="276.575" x2="286.75" y2="276.575" stroke="#202020" stroke-width="0.9"/>
<polygon points="218.31,234.70 219.08,236.54 221.07,236.70 219.55,238.00 220.01,239.95 218.31,238.91 216.61,239.95 217.07,238.00 215.55,236.70 217.54,236.54" fill="#111"/>
<polygon points="232.02,234.70 232.79,236.54 234.78,236.70 233.26,238.00 233.72,239.95 232.02,238.91 230.32,239.95 230.78,238.00 229.26,236.70 231.25,236.54" fill="#111"/>
<polygon points="245.73,234.70 246.50,236.54 248.49,236.70 246.97,238.00 247.43,239.95 245.73,238.91 244.03,239.95 244.49,238.00 242.97,236.70 244.96,236.54" fill="#111"/>
<polygon points="259.44,234.70 260.21,236.54 262.20,236.70 260.68,238.00 261.14,239.95 259.44,238.91 257.74,239.95 258.20,238.00 256.68,236.70 258.67,236.54" fill="#111"/>
<polygon points="273.15,234.70 273.92,236.54 275.91,236.70 274.39,238.00 274.85,239.95 273.15,238.91 271.45,239.95 271.91,238.00 270.39,236.70 272.38,236.54" fill="#111"/>
<text x="4.2" y="13.75" font-size="17" font-weight="bold" text-anchor="start" fill="#000" >A</text>
<text x="2.7" y="235.6" font-size="17" font-weight="bold" text-anchor="start" fill="#000" >B</text>
<text x="2.5" y="417.0" font-size="17" font-weight="bold" text-anchor="start" fill="#000" >C</text>
<text x="307.5" y="15.7" font-size="17" font-weight="bold" text-anchor="start" fill="#000" >D</text>
<text x="306.0" y="236.3" font-size="17" font-weight="bold" text-anchor="start" fill="#000" >E</text>
<text x="330.8" y="435.5" font-size="17" font-weight="bold" text-anchor="start" fill="#000" >F</text>
<text x="2.5" y="660.3" font-size="17" font-weight="bold" text-anchor="start" fill="#000" >G</text>
<text x="175.0" y="14.2" font-size="11.3" font-weight="bold" text-anchor="middle" fill="#000" >FDG-PET</text>
<text x="174.6" y="232.8" font-size="11.6" font-weight="bold" text-anchor="middle" fill="#000" >FLT-PET</text>
<text x="174.3" y="174.7" font-size="10.3" font-weight="bold" text-anchor="middle" fill="#000" >Ranked Patients</text>
<text x="173.8" y="376.6" font-size="10.3" font-weight="bold" text-anchor="middle" fill="#000" >Ranked Patients</text>
<text transform="translate(25.0,170.0) rotate(-90)" x="0" y="0" font-size="10.5" font-weight="bold">% Change Summed SUV<tspan font-size="8.5">max</tspan></text>
<text transform="translate(25.4,383.3) rotate(-90)" x="0" y="0" font-size="10.5" font-weight="bold">% Change Summed SUV<tspan font-size="8.5">max</tspan></text>
<line x1="61.25" y1="411" x2="61.25" y2="593" stroke="#1a1a1a" stroke-width="1.4"/>
<line x1="60.55" y1="592.8" x2="274.9" y2="592.8" stroke="#1a1a1a" stroke-width="1.4"/>
<line x1="57.75" y1="411.0" x2="61.25" y2="411.0" stroke="#202020" stroke-width="1"/>
<text x="53.8" y="414.6" font-size="10" font-weight="bold" text-anchor="end" fill="#000" >25</text>
<line x1="57.75" y1="447.4" x2="61.25" y2="447.4" stroke="#202020" stroke-width="1"/>
<text x="53.8" y="451.0" font-size="10" font-weight="bold" text-anchor="end" fill="#000" >0</text>
<line x1="57.75" y1="483.79999999999995" x2="61.25" y2="483.79999999999995" stroke="#202020" stroke-width="1"/>
<text x="53.8" y="487.4" font-size="10" font-weight="bold" text-anchor="end" fill="#000" >-25</text>
<line x1="57.75" y1="520.1999999999999" x2="61.25" y2="520.1999999999999" stroke="#202020" stroke-width="1"/>
<text x="53.8" y="523.8" font-size="10" font-weight="bold" text-anchor="end" fill="#000" >-50</text>
<line x1="57.75" y1="556.6" x2="61.25" y2="556.6" stroke="#202020" stroke-width="1"/>
<text x="53.8" y="560.2" font-size="10" font-weight="bold" text-anchor="end" fill="#000" >-75</text>
<line x1="57.75" y1="593.0" x2="61.25" y2="593.0" stroke="#202020" stroke-width="1"/>
<text x="53.8" y="596.6" font-size="10" font-weight="bold" text-anchor="end" fill="#000" >-100</text>
<line x1="61.24999999999997" y1="593" x2="61.24999999999997" y2="596.5" stroke="#202020" stroke-width="1"/>
<text x="61.24999999999997" y="609.9" font-size="10" font-weight="bold" text-anchor="middle" fill="#000" >-100</text>
<line x1="114.48749999999998" y1="593" x2="114.48749999999998" y2="596.5" stroke="#202020" stroke-width="1"/>
<text x="114.48749999999998" y="609.9" font-size="10" font-weight="bold" text-anchor="middle" fill="#000" >-75</text>
<line x1="167.72499999999997" y1="593" x2="167.72499999999997" y2="596.5" stroke="#202020" stroke-width="1"/>
<text x="167.72499999999997" y="609.9" font-size="10" font-weight="bold" text-anchor="middle" fill="#000" >-50</text>
<line x1="220.96249999999998" y1="593" x2="220.96249999999998" y2="596.5" stroke="#202020" stroke-width="1"/>
<text x="220.96249999999998" y="609.9" font-size="10" font-weight="bold" text-anchor="middle" fill="#000" >-25</text>
<line x1="274.2" y1="593" x2="274.2" y2="596.5" stroke="#202020" stroke-width="1"/>
<text x="274.2" y="609.9" font-size="10" font-weight="bold" text-anchor="middle" fill="#000" >0</text>
<line x1="221.4" y1="411" x2="221.4" y2="593" stroke="#202020" stroke-width="0.9"/>
<line x1="61.25" y1="483.1" x2="277.5" y2="483.1" stroke="#202020" stroke-width="0.9"/>
<text x="71" y="417.6" font-size="10" font-weight="bold">r = 0.38 (<tspan font-style="italic">P</tspan> = 0.14)</text>
<text transform="translate(28.4,587.9) rotate(-90)" x="0" y="0" font-size="10.6" font-weight="bold">% Change Summed FDG SUV<tspan font-size="9.2">max</tspan></text>
<text x="168.2" y="623.1" font-size="10.6" font-weight="bold" text-anchor="middle">% Change Summed FLT SUV<tspan font-size="8.7">max</tspan></text>
<rect x="135.10" y="444.00" width="5.20" height="5.20" fill="#000"/>
<rect x="146.20" y="497.40" width="5.20" height="5.20" fill="#000"/>
<rect x="178.65" y="454.40" width="5.20" height="5.20" fill="#000"/>
<rect x="194.90" y="478.15" width="5.20" height="5.20" fill="#000"/>
<rect x="264.90" y="433.15" width="5.20" height="5.20" fill="#000"/>
<rect x="102.05" y="455.55" width="4.30" height="4.30" fill="#fff" stroke="#555" stroke-width="0.9"/>
<rect x="131.05" y="461.25" width="4.30" height="4.30" fill="#fff" stroke="#555" stroke-width="0.9"/>
<rect x="126.35" y="481.65" width="4.30" height="4.30" fill="#fff" stroke="#555" stroke-width="0.9"/>
<rect x="105.55" y="499.35" width="4.30" height="4.30" fill="#fff" stroke="#555" stroke-width="0.9"/>
<rect x="121.85" y="516.55" width="4.30" height="4.30" fill="#fff" stroke="#555" stroke-width="0.9"/>
<rect x="186.10" y="466.35" width="4.30" height="4.30" fill="#fff" stroke="#555" stroke-width="0.9"/>
<rect x="211.60" y="464.60" width="4.30" height="4.30" fill="#fff" stroke="#555" stroke-width="0.9"/>
<rect x="100.15" y="479.35" width="4.30" height="4.30" fill="#3355cc" stroke="#223388" stroke-width="0.9"/>
<rect x="92.75" y="492.45" width="4.30" height="4.30" fill="#a8d0f0" stroke="#50708f" stroke-width="0.9"/>
<rect x="121.25" y="532.15" width="4.30" height="4.30" fill="#a8d0f0" stroke="#50708f" stroke-width="0.9"/>
<rect x="162.15" y="551.35" width="4.30" height="4.30" fill="#b8b8b8" stroke="#666" stroke-width="0.9"/>
<line x1="354.5" y1="18.6" x2="502" y2="18.6" stroke="#d8d8d8" stroke-width="1"/>
<line x1="354.5" y1="49.81" x2="502" y2="49.81" stroke="#d8d8d8" stroke-width="1"/>
<line x1="354.5" y1="81.02" x2="502" y2="81.02" stroke="#d8d8d8" stroke-width="1"/>
<line x1="354.5" y1="112.22999999999999" x2="502" y2="112.22999999999999" stroke="#d8d8d8" stroke-width="1"/>
<line x1="354.5" y1="143.44" x2="502" y2="143.44" stroke="#d8d8d8" stroke-width="1"/>
<line x1="354.5" y1="18.6" x2="354.5" y2="174.7" stroke="#333" stroke-width="1.3"/>
<line x1="354.5" y1="174.7" x2="501.2" y2="174.7" stroke="#333" stroke-width="1.3"/>
<line x1="351.0" y1="18.6" x2="354.5" y2="18.6" stroke="#303030" stroke-width="1"/>
<text x="347.2" y="21.400000000000002" font-size="9.7" font-weight="bold" text-anchor="end" fill="#000" >25</text>
<line x1="351.0" y1="49.81" x2="354.5" y2="49.81" stroke="#303030" stroke-width="1"/>
<text x="347.2" y="52.61" font-size="9.7" font-weight="bold" text-anchor="end" fill="#000" >0</text>
<line x1="351.0" y1="81.02" x2="354.5" y2="81.02" stroke="#303030" stroke-width="1"/>
<text x="347.2" y="83.82" font-size="9.7" font-weight="bold" text-anchor="end" fill="#000" >-25</text>
<line x1="351.0" y1="112.22999999999999" x2="354.5" y2="112.22999999999999" stroke="#303030" stroke-width="1"/>
<text x="347.2" y="115.02999999999999" font-size="9.7" font-weight="bold" text-anchor="end" fill="#000" >-50</text>
<line x1="351.0" y1="143.44" x2="354.5" y2="143.44" stroke="#303030" stroke-width="1"/>
<text x="347.2" y="146.24" font-size="9.7" font-weight="bold" text-anchor="end" fill="#000" >-75</text>
<line x1="351.0" y1="174.64999999999998" x2="354.5" y2="174.64999999999998" stroke="#303030" stroke-width="1"/>
<text x="347.2" y="177.45" font-size="9.7" font-weight="bold" text-anchor="end" fill="#000" >-100</text>
<line x1="354.4" y1="174.7" x2="354.4" y2="177.7" stroke="#303030" stroke-width="1"/>
<text x="354.4" y="191.2" font-size="9.7" font-weight="bold" text-anchor="middle" fill="#000" >0</text>
<line x1="381.09939999999995" y1="174.7" x2="381.09939999999995" y2="177.7" stroke="#303030" stroke-width="1"/>
<text x="381.09939999999995" y="191.2" font-size="9.7" font-weight="bold" text-anchor="middle" fill="#000" >180</text>
<line x1="407.79879999999997" y1="174.7" x2="407.79879999999997" y2="177.7" stroke="#303030" stroke-width="1"/>
<text x="407.79879999999997" y="191.2" font-size="9.7" font-weight="bold" text-anchor="middle" fill="#000" >360</text>
<line x1="434.4982" y1="174.7" x2="434.4982" y2="177.7" stroke="#303030" stroke-width="1"/>
<text x="434.4982" y="191.2" font-size="9.7" font-weight="bold" text-anchor="middle" fill="#000" >540</text>
<line x1="461.19759999999997" y1="174.7" x2="461.19759999999997" y2="177.7" stroke="#303030" stroke-width="1"/>
<text x="461.19759999999997" y="191.2" font-size="9.7" font-weight="bold" text-anchor="middle" fill="#000" >720</text>
<line x1="487.89699999999993" y1="174.7" x2="487.89699999999993" y2="177.7" stroke="#303030" stroke-width="1"/>
<text x="487.89699999999993" y="191.2" font-size="9.7" font-weight="bold" text-anchor="middle" fill="#000" >900</text>
<rect x="358.90" y="37.50" width="5.20" height="5.20" fill="#000"/>
<rect x="355.90" y="47.00" width="5.20" height="5.20" fill="#000"/>
<rect x="361.00" y="55.80" width="5.20" height="5.20" fill="#000"/>
<rect x="356.00" y="76.50" width="5.20" height="5.20" fill="#000"/>
<rect x="360.50" y="92.70" width="5.20" height="5.20" fill="#000"/>
<rect x="377.25" y="61.55" width="4.30" height="4.30" fill="#fff" stroke="#555" stroke-width="0.9"/>
<rect x="369.55" y="66.15" width="4.30" height="4.30" fill="#fff" stroke="#555" stroke-width="0.9"/>
<rect x="402.65" y="64.55" width="4.30" height="4.30" fill="#fff" stroke="#555" stroke-width="0.9"/>
<rect x="418.85" y="56.55" width="4.30" height="4.30" fill="#fff" stroke="#555" stroke-width="0.9"/>
<rect x="371.35" y="79.05" width="4.30" height="4.30" fill="#fff" stroke="#555" stroke-width="0.9"/>
<rect x="369.95" y="109.35" width="4.30" height="4.30" fill="#fff" stroke="#555" stroke-width="0.9"/>
<rect x="452.05" y="94.35" width="4.30" height="4.30" fill="#fff" stroke="#555" stroke-width="0.9"/>
<rect x="459.95" y="77.05" width="4.30" height="4.30" fill="#3355cc" stroke="#223388" stroke-width="0.9"/>
<rect x="436.35" y="88.55" width="4.30" height="4.30" fill="#a8d0f0" stroke="#50708f" stroke-width="0.9"/>
<rect x="486.55" y="122.65" width="4.30" height="4.30" fill="#a8d0f0" stroke="#50708f" stroke-width="0.9"/>
<rect x="370.55" y="139.05" width="4.30" height="4.30" fill="#b8b8b8" stroke="#666" stroke-width="0.9"/>
<text x="435.6" y="13.5" font-size="11.3" font-weight="bold" text-anchor="middle" fill="#000" >FDG-PET</text>
<text x="432.6" y="207.6" font-size="10.3" font-weight="bold" text-anchor="middle" fill="#000" >Time to Progression (days)</text>
<text transform="translate(325.0,167.4) rotate(-90)" x="0" y="0" font-size="10.82" font-weight="bold">% Change Summed SUV<tspan font-size="8.75">max</tspan></text>
<line x1="357.3" y1="241.7" x2="505.6" y2="241.7" stroke="#d8d8d8" stroke-width="1"/>
<line x1="357.3" y1="273.48" x2="505.6" y2="273.48" stroke="#d8d8d8" stroke-width="1"/>
<line x1="357.3" y1="305.26" x2="505.6" y2="305.26" stroke="#d8d8d8" stroke-width="1"/>
<line x1="357.3" y1="337.03999999999996" x2="505.6" y2="337.03999999999996" stroke="#d8d8d8" stroke-width="1"/>
<line x1="357.3" y1="241.7" x2="357.3" y2="368.8" stroke="#333" stroke-width="1.3"/>
<line x1="357.3" y1="368.8" x2="505.6" y2="368.8" stroke="#333" stroke-width="1.3"/>
<line x1="353.8" y1="241.7" x2="357.3" y2="241.7" stroke="#303030" stroke-width="1"/>
<text x="350.0" y="244.5" font-size="9.7" font-weight="bold" text-anchor="end" fill="#000" >0</text>
<line x1="353.8" y1="273.48" x2="357.3" y2="273.48" stroke="#303030" stroke-width="1"/>
<text x="350.0" y="276.28000000000003" font-size="9.7" font-weight="bold" text-anchor="end" fill="#000" >-25</text>
<line x1="353.8" y1="305.26" x2="357.3" y2="305.26" stroke="#303030" stroke-width="1"/>
<text x="350.0" y="308.06" font-size="9.7" font-weight="bold" text-anchor="end" fill="#000" >-50</text>
<line x1="353.8" y1="337.03999999999996" x2="357.3" y2="337.03999999999996" stroke="#303030" stroke-width="1"/>
<text x="350.0" y="339.84" font-size="9.7" font-weight="bold" text-anchor="end" fill="#000" >-75</text>
<line x1="353.8" y1="368.82" x2="357.3" y2="368.82" stroke="#303030" stroke-width="1"/>
<text x="350.0" y="371.62" font-size="9.7" font-weight="bold" text-anchor="end" fill="#000" >-100</text>
<line x1="357.4" y1="368.8" x2="357.4" y2="371.8" stroke="#303030" stroke-width="1"/>
<text x="357.4" y="385.0" font-size="9.7" font-weight="bold" text-anchor="middle" fill="#000" >0</text>
<line x1="383.96799999999996" y1="368.8" x2="383.96799999999996" y2="371.8" stroke="#303030" stroke-width="1"/>
<text x="383.96799999999996" y="385.0" font-size="9.7" font-weight="bold" text-anchor="middle" fill="#000" >180</text>
<line x1="410.536" y1="368.8" x2="410.536" y2="371.8" stroke="#303030" stroke-width="1"/>
<text x="410.536" y="385.0" font-size="9.7" font-weight="bold" text-anchor="middle" fill="#000" >360</text>
<line x1="437.104" y1="368.8" x2="437.104" y2="371.8" stroke="#303030" stroke-width="1"/>
<text x="437.104" y="385.0" font-size="9.7" font-weight="bold" text-anchor="middle" fill="#000" >540</text>
<line x1="463.67199999999997" y1="368.8" x2="463.67199999999997" y2="371.8" stroke="#303030" stroke-width="1"/>
<text x="463.67199999999997" y="385.0" font-size="9.7" font-weight="bold" text-anchor="middle" fill="#000" >720</text>
<line x1="490.24" y1="368.8" x2="490.24" y2="371.8" stroke="#303030" stroke-width="1"/>
<text x="490.24" y="385.0" font-size="9.7" font-weight="bold" text-anchor="middle" fill="#000" >900</text>
<rect x="361.20" y="243.00" width="5.20" height="5.20" fill="#000"/>
<rect x="358.70" y="284.50" width="5.20" height="5.20" fill="#000"/>
<rect x="363.70" y="294.50" width="5.20" height="5.20" fill="#000"/>
<rect x="363.10" y="313.80" width="5.20" height="5.20" fill="#000"/>
<rect x="358.60" y="320.70" width="5.20" height="5.20" fill="#000"/>
<rect x="371.85" y="290.85" width="4.30" height="4.30" fill="#fff" stroke="#555" stroke-width="0.9"/>
<rect x="379.75" y="323.65" width="4.30" height="4.30" fill="#fff" stroke="#555" stroke-width="0.9"/>
<rect x="373.85" y="326.85" width="4.30" height="4.30" fill="#fff" stroke="#555" stroke-width="0.9"/>
<rect x="372.05" y="329.35" width="4.30" height="4.30" fill="#fff" stroke="#555" stroke-width="0.9"/>
<rect x="421.05" y="341.05" width="4.30" height="4.30" fill="#fff" stroke="#555" stroke-width="0.9"/>
<rect x="454.35" y="339.05" width="4.30" height="4.30" fill="#fff" stroke="#555" stroke-width="0.9"/>
<rect x="404.95" y="275.55" width="4.30" height="4.30" fill="#fff" stroke="#555" stroke-width="0.9"/>
<rect x="462.05" y="342.25" width="4.30" height="4.30" fill="#3355cc" stroke="#223388" stroke-width="0.9"/>
<rect x="437.65" y="346.55" width="4.30" height="4.30" fill="#a8d0f0" stroke="#50708f" stroke-width="0.9"/>
<rect x="488.25" y="329.55" width="4.30" height="4.30" fill="#a8d0f0" stroke="#50708f" stroke-width="0.9"/>
<rect x="373.05" y="304.95" width="4.30" height="4.30" fill="#b8b8b8" stroke="#666" stroke-width="0.9"/>
<text x="437.7" y="231.8" font-size="11.6" font-weight="bold" text-anchor="middle" fill="#000" >FLT-PET</text>
<text x="433.5" y="403.6" font-size="10.3" font-weight="bold" text-anchor="middle" fill="#000" >Time to Progression (days)</text>
<text transform="translate(325.8,370.5) rotate(-90)" x="0" y="0" font-size="10.23" font-weight="bold">% Change Summed SUV<tspan font-size="8.28">max</tspan></text>
<line x1="362.6" y1="443.5" x2="362.6" y2="578.3" stroke="#202020" stroke-width="1.2"/>
<line x1="362.6" y1="578.3" x2="514.2" y2="578.3" stroke="#202020" stroke-width="1.2"/>
<line x1="358.6" y1="578.3" x2="362.6" y2="578.3" stroke="#202020" stroke-width="1.2"/>
<text x="359.6" y="581.8" font-size="9.6" font-weight="bold" text-anchor="end" fill="#000" >0</text>
<line x1="358.6" y1="551.3399999999999" x2="362.6" y2="551.3399999999999" stroke="#202020" stroke-width="1.2"/>
<text x="359.6" y="554.8399999999999" font-size="9.6" font-weight="bold" text-anchor="end" fill="#000" >20</text>
<line x1="358.6" y1="524.38" x2="362.6" y2="524.38" stroke="#202020" stroke-width="1.2"/>
<text x="359.6" y="527.88" font-size="9.6" font-weight="bold" text-anchor="end" fill="#000" >40</text>
<line x1="358.6" y1="497.41999999999996" x2="362.6" y2="497.41999999999996" stroke="#202020" stroke-width="1.2"/>
<text x="359.6" y="500.91999999999996" font-size="9.6" font-weight="bold" text-anchor="end" fill="#000" >60</text>
<line x1="358.6" y1="470.4599999999999" x2="362.6" y2="470.4599999999999" stroke="#202020" stroke-width="1.2"/>
<text x="359.6" y="473.9599999999999" font-size="9.6" font-weight="bold" text-anchor="end" fill="#000" >80</text>
<line x1="358.6" y1="443.49999999999994" x2="362.6" y2="443.49999999999994" stroke="#202020" stroke-width="1.2"/>
<text x="359.6" y="446.99999999999994" font-size="9.6" font-weight="bold" text-anchor="end" fill="#000" >100</text>
<line x1="362.6" y1="578.3" x2="362.6" y2="581.5" stroke="#202020" stroke-width="1.2"/>
<text x="362.6" y="595.7" font-size="9.6" font-weight="bold" text-anchor="middle" fill="#000" >0</text>
<line x1="389.87" y1="578.3" x2="389.87" y2="581.5" stroke="#202020" stroke-width="1.2"/>
<text x="389.87" y="595.7" font-size="9.6" font-weight="bold" text-anchor="middle" fill="#000" >180</text>
<line x1="417.14000000000004" y1="578.3" x2="417.14000000000004" y2="581.5" stroke="#202020" stroke-width="1.2"/>
<text x="417.14000000000004" y="595.7" font-size="9.6" font-weight="bold" text-anchor="middle" fill="#000" >360</text>
<line x1="444.41" y1="578.3" x2="444.41" y2="581.5" stroke="#202020" stroke-width="1.2"/>
<text x="444.41" y="595.7" font-size="9.6" font-weight="bold" text-anchor="middle" fill="#000" >540</text>
<line x1="471.68" y1="578.3" x2="471.68" y2="581.5" stroke="#202020" stroke-width="1.2"/>
<text x="471.68" y="595.7" font-size="9.6" font-weight="bold" text-anchor="middle" fill="#000" >720</text>
<line x1="498.95000000000005" y1="578.3" x2="498.95000000000005" y2="581.5" stroke="#202020" stroke-width="1.2"/>
<text x="498.95000000000005" y="595.7" font-size="9.6" font-weight="bold" text-anchor="middle" fill="#000" >900</text>
<polyline points="362.60,443.50 380.10,443.50 380.10,465.97 430.60,465.97 430.60,488.43 447.90,488.43 447.90,510.90 464.30,510.90 464.30,533.37 499.80,533.37" fill="none" stroke="#4a4cae" stroke-width="1.6"/>
<polyline points="362.60,443.50 366.30,443.50 366.30,470.46 369.40,470.46 369.40,483.94 370.90,483.94 370.90,510.90 379.50,510.90 379.50,524.38 380.60,524.38 380.60,537.86 381.40,537.86 381.40,551.34 387.70,551.34 387.70,564.82 413.80,564.82 413.80,578.30" fill="none" stroke="#c02a28" stroke-width="1.6"/>
<line x1="366.30" y1="443.50" x2="366.30" y2="470.46" stroke="#3a0c0c" stroke-width="0.9" opacity="0.55"/>
<line x1="369.40" y1="470.46" x2="369.40" y2="483.94" stroke="#3a0c0c" stroke-width="0.9" opacity="0.55"/>
<line x1="370.90" y1="483.94" x2="370.90" y2="510.90" stroke="#3a0c0c" stroke-width="0.9" opacity="0.55"/>
<line x1="379.50" y1="510.90" x2="379.50" y2="524.38" stroke="#3a0c0c" stroke-width="0.9" opacity="0.55"/>
<line x1="380.60" y1="524.38" x2="380.60" y2="537.86" stroke="#3a0c0c" stroke-width="0.9" opacity="0.55"/>
<line x1="381.40" y1="537.86" x2="381.40" y2="551.34" stroke="#3a0c0c" stroke-width="0.9" opacity="0.55"/>
<line x1="387.70" y1="551.34" x2="387.70" y2="564.82" stroke="#3a0c0c" stroke-width="0.9" opacity="0.55"/>
<line x1="413.80" y1="564.82" x2="413.80" y2="578.30" stroke="#3a0c0c" stroke-width="0.9" opacity="0.55"/>
<line x1="473" y1="533.3711599999999" x2="473" y2="531.1711599999999" stroke="#222" stroke-width="0.9"/>
<line x1="499.6" y1="533.3711599999999" x2="499.6" y2="531.1711599999999" stroke="#222" stroke-width="0.9"/>
<text x="429.8" y="447.5" font-size="10.6" font-weight="bold" text-anchor="middle" fill="#000" >FLT-PET</text>
<line x1="458.5" y1="437.6" x2="471" y2="437.6" stroke="#4a4cae" stroke-width="1.3"/>
<line x1="464.8" y1="437.6" x2="464.8" y2="435.9" stroke="#222" stroke-width="0.8"/>
<line x1="458.5" y1="448.8" x2="471" y2="448.8" stroke="#c8302c" stroke-width="1.3"/>
<line x1="464.8" y1="448.8" x2="464.8" y2="447.1" stroke="#222" stroke-width="0.8"/>
<text x="474.6" y="440.8" font-size="9" font-weight="bold" text-anchor="start" fill="#000" >&gt; 70%</text>
<line x1="475" y1="442.3" x2="480" y2="442.3" stroke="#000" stroke-width="0.9"/>
<text x="474.6" y="451.8" font-size="9" font-weight="bold" text-anchor="start" fill="#000" >&lt; 70%</text>
<path d="M502.4,431.9 L504.6,431.9 L504.6,437.90000000000003 L506.1,437.90000000000003 L503.5,441.3 L500.9,437.90000000000003 L502.4,437.90000000000003 Z" fill="#000"/>
<path d="M502.4,443.8 L504.6,443.8 L504.6,450.1 L506.1,450.1 L503.5,453.5 L500.9,450.1 L502.4,450.1 Z" fill="#000"/>
<text x="511.4" y="570.6" font-size="9.4" font-weight="bold" text-anchor="end"><tspan font-style="italic">P</tspan> = 0.002</text>
<text transform="translate(339.3,552.2) rotate(-90)" font-size="10.6" font-weight="bold" textLength="80.4" lengthAdjust="spacingAndGlyphs">Percent survival</text>
<text x="437.4" y="613.8" font-size="10.3" font-weight="bold" text-anchor="middle" fill="#000" >Time to Progression (days)</text>
<text x="193.0" y="656.0" font-size="10.6" font-weight="bold" text-anchor="middle" fill="#000" textLength="75.3" lengthAdjust="spacingAndGlyphs" >Patient 1 (PD)</text>
<text x="48.75" y="672.9" font-size="9.6" font-weight="bold" text-anchor="middle" fill="#000" textLength="16.3" lengthAdjust="spacingAndGlyphs" >Pre</text>
<text x="135.25" y="672.9" font-size="9.6" font-weight="bold" text-anchor="middle" fill="#000" textLength="77.6" lengthAdjust="spacingAndGlyphs" >Cycle 1 (-43.6%)</text>
<text x="217.1" y="672.9" font-size="9.6" font-weight="bold" text-anchor="middle" fill="#000" textLength="16.3" lengthAdjust="spacingAndGlyphs" >Pre</text>
<text x="297.35" y="672.9" font-size="9.6" font-weight="bold" text-anchor="middle" fill="#000" textLength="63.6" lengthAdjust="spacingAndGlyphs" >Cycle 1 (-7%)</text>
<rect x="15.5" y="677" width="154.7" height="116" fill="none" stroke="#bcbcbc" stroke-width="1"/>
<rect x="183.5" y="677" width="154.5" height="116" fill="none" stroke="#bcbcbc" stroke-width="1"/>
<text x="86.8" y="806.8" font-size="9.4" font-weight="bold" text-anchor="middle" fill="#000" textLength="41.9" lengthAdjust="spacingAndGlyphs" >FLT-PET</text>
<text x="261.95" y="806.8" font-size="9.4" font-weight="bold" text-anchor="middle" fill="#000" textLength="44.2" lengthAdjust="spacingAndGlyphs" >FDG-PET</text>
<rect x="353.5" y="666.3" width="163.8" height="29.3" fill="none" stroke="#888" stroke-width="1"/>
<text x="357.6" y="675.6" font-size="9.3" font-weight="bold" text-anchor="start" fill="#000" textLength="101.3" lengthAdjust="spacingAndGlyphs" >IWG Response Criteria</text>
<rect x="357.30" y="684.60" width="4.90" height="4.90" fill="#000" stroke="#000" stroke-width="0.9"/>
<text x="364.6" y="691.0" font-size="9.6" font-weight="bold" text-anchor="start" fill="#000" >PD</text>
<rect x="390.30" y="684.60" width="4.90" height="4.90" fill="#fff" stroke="#444" stroke-width="0.9"/>
<text x="397.4" y="691.0" font-size="9.6" font-weight="bold" text-anchor="start" fill="#000" >SD</text>
<rect x="424.90" y="684.60" width="4.90" height="4.90" fill="#a8d0f0" stroke="#50708f" stroke-width="0.9"/>
<text x="432.0" y="691.0" font-size="9.6" font-weight="bold" text-anchor="start" fill="#000" >PR</text>
<rect x="458.80" y="684.60" width="4.90" height="4.90" fill="#3355cc" stroke="#223388" stroke-width="0.9"/>
<text x="466.3" y="691.0" font-size="9.6" font-weight="bold" text-anchor="start" fill="#000" >CR</text>
<rect x="493.40" y="684.60" width="4.90" height="4.90" fill="#b8b8b8" stroke="#555" stroke-width="0.9"/>
<text x="501.0" y="691.0" font-size="9.6" font-weight="bold" text-anchor="start" fill="#000" >NE</text>
</svg></body></html>
